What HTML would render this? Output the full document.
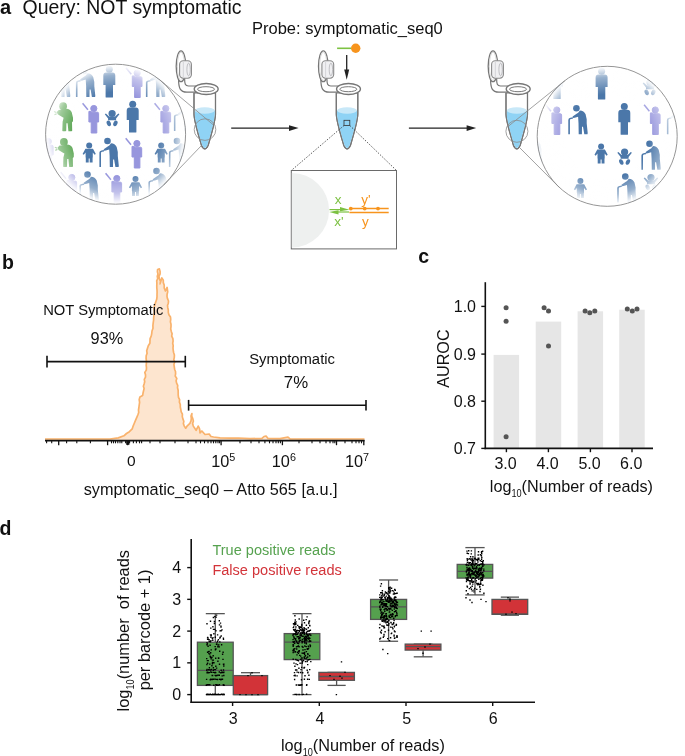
<!DOCTYPE html>
<html><head><meta charset="utf-8"><title>figure</title>
<style>
html,body{margin:0;padding:0;background:#fff;width:685px;height:756px;overflow:hidden}
svg{display:block;font-family:"Liberation Sans", sans-serif;filter:blur(0.35px)}
</style></head><body>
<svg width="685" height="756" viewBox="0 0 685 756">

<defs>
 <radialGradient id="fade" cx="0.5" cy="0.5" r="0.5">
  <stop offset="0" stop-color="#fff" stop-opacity="0"/>
  <stop offset="0.6" stop-color="#fff" stop-opacity="0"/>
  <stop offset="0.84" stop-color="#fff" stop-opacity="0.42"/>
  <stop offset="0.97" stop-color="#fff" stop-opacity="0.92"/>
  <stop offset="1" stop-color="#fff" stop-opacity="0.95"/>
 </radialGradient>
 <clipPath id="c1"><circle cx="115.6" cy="134.2" r="70"/></clipPath>
 <clipPath id="c3"><circle cx="607.2" cy="136.3" r="70"/></clipPath>
 <g id="man">
  <circle cx="0" cy="-28.3" r="3.5"/>
  <path d="M-6,-21.8 Q-6,-25 -3,-25 H3 Q6,-25 6,-21.8 V-12.5 H3.7 V-0.6 Q3.7,0 3,0 H-3 Q-3.7,0 -3.7,-0.6 V-12.5 H-6 Z"/>
 </g>
 <g id="old">
  <circle cx="-3" cy="-26" r="3.3"/>
  <path d="M-1.2,-21.5 L0.5,-23.8 Q4.5,-23.5 6.2,-20 L7.3,-15 L7.3,-11 L8.3,-1.2 L8.1,0 L4.9,0 L3.6,-7.5 L2.6,-7.5 L2.5,0 L-0.7,0 L-0.9,-11.4 L-1.3,-17.5 L-4.7,-16.6 L-6.5,-16.3 L-6.8,-17.8 L-2.8,-20.5 Z"/>
  <path d="M-11.1,0 V-14.4 Q-11.1,-16.4 -9,-16.6 L-6.6,-17 L-6.5,-15.6 L-8.6,-15.2 Q-9.5,-15 -9.5,-14 V0 Z"/>
 </g>
 <g id="child">
  <circle cx="0" cy="-17" r="3"/>
  <path d="M-3.8,-13.8 H3.8 L6.6,-8.6 L5.4,-7.7 L3.6,-10 V-5 H3.4 V0 H0.5 V-4 H-0.5 V0 H-3.4 V-5 H-3.6 V-10 L-5.4,-7.7 L-6.6,-8.6 Z"/>
 </g>
 <g id="baby">
  <circle cx="0" cy="-12.5" r="3.6"/>
  <path d="M-7.3,-11.8 L-6.2,-12.6 L-3,-9.6 H3 L6.2,-12.6 L7.3,-11.8 L4,-7.5 V-5.8 H-4 V-7.5 Z"/>
  <ellipse cx="-3.3" cy="-2.6" rx="2" ry="2.9" transform="rotate(-25 -3.3 -2.6)"/>
  <ellipse cx="3.3" cy="-2.6" rx="2" ry="2.9" transform="rotate(25 3.3 -2.6)"/>
 </g>
 <g id="swab">
  <circle cx="0.3" cy="-24.5" r="3.1"/>
  <path d="M-4.6,-21.6 H-2.4 L-1.5,-20.8 H3.8 Q5.1,-20.8 5.1,-19.5 V-11 H3.3 V0 H-2.3 V-11 H-4.6 Z"/>
  <line x1="-10.9" y1="-29.8" x2="-5.6" y2="-23.2" stroke-width="1.5"/>
 </g>
 <g id="cough">
  <circle cx="-4.1" cy="-25.1" r="3.9"/>
  <path d="M-6,-21.6 L-1,-22.6 Q3,-22.6 4.5,-19 L5.8,-13.5 L5.8,-10 L4.8,-9 L5,-0.5 L4.3,0 L1.2,0 L0.4,-8 L-0.8,-8 L-1,-0.5 L-1.6,0 L-4.4,0 L-4.9,-0.6 L-4.6,-9.5 L-3.6,-13.5 L-5,-14.2 L-9.5,-17 L-10.5,-19.3 L-8.5,-21.4 Z"/>
  <path d="M-13.2,-19.8 L-10.8,-18.8 M-12.8,-16.6 L-10.6,-17.6" stroke-width="1.2" stroke="currentColor" fill="none"/>
 </g>
 <linearGradient id="gB" x1="0" y1="0" x2="0" y2="1"><stop offset="0" stop-color="#4a76a8"/><stop offset="1" stop-color="#4a76a8"/></linearGradient>
</defs>

<text x="0" y="14" font-size="20" text-anchor="start" font-weight="bold" fill="#111" >a</text>
<text x="22.6" y="14" font-size="19.45" text-anchor="start" font-weight="normal" fill="#111" >Query: NOT symptomatic</text>
<text x="252" y="34" font-size="16.5" text-anchor="start" font-weight="normal" fill="#111" >Probe: symptomatic_seq0</text>
<g clip-path="url(#c1)">
<use href="#old" transform="translate(62.0,97.0) scale(1.0)" fill="#4b77a9" color="#4b77a9"/>
<use href="#old" transform="translate(87.0,97.0) scale(1.0)" fill="#4b77a9" color="#4b77a9"/>
<use href="#man" transform="translate(109.3,97.5) scale(1.0)" fill="#4b77a9" color="#4b77a9"/>
<use href="#swab" transform="translate(136.9,97.5) scale(1.0)" fill="#9796dd" color="#9796dd" stroke="#9796dd"/>
<use href="#old" transform="translate(157.0,97.0) scale(1.0)" fill="#4b77a9" color="#4b77a9"/>
<use href="#cough" transform="translate(67.2,131.3) scale(1.0)" fill="#5aa552" color="#5aa552"/>
<use href="#swab" transform="translate(93.5,133.0) scale(1.0)" fill="#9796dd" color="#9796dd" stroke="#9796dd"/>
<use href="#baby" transform="translate(112.1,126.0) scale(1.0)" fill="#4b77a9" color="#4b77a9"/>
<use href="#man" transform="translate(132.7,132.5) scale(1.0)" fill="#4b77a9" color="#4b77a9"/>
<use href="#swab" transform="translate(165.5,133.0) scale(1.0)" fill="#9796dd" color="#9796dd" stroke="#9796dd"/>
<use href="#old" transform="translate(185.0,131.0) scale(1.0)" fill="#4b77a9" color="#4b77a9"/>
<use href="#swab" transform="translate(48.0,166.0) scale(1.0)" fill="#9796dd" color="#9796dd" stroke="#9796dd"/>
<use href="#cough" transform="translate(68.0,167.0) scale(1.0)" fill="#5aa552" color="#5aa552"/>
<use href="#child" transform="translate(89.2,162.5) scale(1.0)" fill="#4b77a9" color="#4b77a9"/>
<use href="#old" transform="translate(110.5,167.0) scale(1.0)" fill="#4b77a9" color="#4b77a9"/>
<use href="#swab" transform="translate(136.6,168.0) scale(1.0)" fill="#9796dd" color="#9796dd" stroke="#9796dd"/>
<use href="#child" transform="translate(161.2,162.5) scale(1.0)" fill="#4b77a9" color="#4b77a9"/>
<use href="#old" transform="translate(180.0,167.0) scale(1.0)" fill="#4b77a9" color="#4b77a9"/>
<use href="#swab" transform="translate(71.5,202.0) scale(1.0)" fill="#9796dd" color="#9796dd" stroke="#9796dd"/>
<use href="#old" transform="translate(90.5,200.5) scale(1.0)" fill="#4b77a9" color="#4b77a9"/>
<use href="#swab" transform="translate(116.5,203.0) scale(1.0)" fill="#9796dd" color="#9796dd" stroke="#9796dd"/>
<use href="#child" transform="translate(135.5,196.0) scale(1.0)" fill="#4b77a9" color="#4b77a9"/>
<use href="#old" transform="translate(159.5,197.0) scale(1.0)" fill="#4b77a9" color="#4b77a9"/>
<circle cx="115.6" cy="134.2" r="70" fill="url(#fade)"/>
</g>
<circle cx="115.6" cy="134.2" r="70" fill="none" stroke="#959595" stroke-width="1"/>
<g clip-path="url(#c3)">
<use href="#man" transform="translate(557.0,99.0) scale(1.0)" fill="#4b77a9" color="#4b77a9"/>
<use href="#man" transform="translate(601.6,99.5) scale(1.0)" fill="#4b77a9" color="#4b77a9"/>
<use href="#baby" transform="translate(650.0,95.0) scale(1.0)" fill="#4b77a9" color="#4b77a9"/>
<use href="#swab" transform="translate(556.5,134.5) scale(1.0)" fill="#9796dd" color="#9796dd" stroke="#9796dd"/>
<use href="#old" transform="translate(579.4,134.3) scale(1.0)" fill="#4b77a9" color="#4b77a9"/>
<use href="#man" transform="translate(624.3,134.8) scale(1.0)" fill="#4b77a9" color="#4b77a9"/>
<use href="#swab" transform="translate(655.0,134.5) scale(1.0)" fill="#9796dd" color="#9796dd" stroke="#9796dd"/>
<use href="#old" transform="translate(678.0,134.3) scale(1.0)" fill="#4b77a9" color="#4b77a9"/>
<use href="#old" transform="translate(534.0,164.0) scale(1.0)" fill="#4b77a9" color="#4b77a9"/>
<use href="#child" transform="translate(601.1,163.4) scale(1.0)" fill="#4b77a9" color="#4b77a9"/>
<use href="#baby" transform="translate(624.6,164.6) scale(1.0)" fill="#4b77a9" color="#4b77a9"/>
<use href="#old" transform="translate(652.5,169.8) scale(1.0)" fill="#4b77a9" color="#4b77a9"/>
<use href="#child" transform="translate(580.4,198.0) scale(1.0)" fill="#4b77a9" color="#4b77a9"/>
<use href="#old" transform="translate(628.3,202.5) scale(1.0)" fill="#4b77a9" color="#4b77a9"/>
<use href="#baby" transform="translate(651.0,190.0) scale(1.0)" fill="#4b77a9" color="#4b77a9"/>
<circle cx="607.2" cy="136.3" r="70" fill="url(#fade)"/>
</g>
<circle cx="607.2" cy="136.3" r="70" fill="none" stroke="#959595" stroke-width="1"/>

<g id="tube">
 <path d="M178.6,78 C178.4,88 180,92.2 187,92.2 L196,92.2 L196,86 L188.5,86 C185.2,86 184.6,84 184.6,78 Z" fill="#fff" stroke="#767676" stroke-width="1.2"/>
 <ellipse cx="181" cy="66.3" rx="4.8" ry="15.4" fill="#fff" stroke="#767676" stroke-width="1.3"/>
 <ellipse cx="181" cy="66.3" rx="3.6" ry="14.2" fill="none" stroke="#d2d2d2" stroke-width="0.8"/>
 <rect x="179.6" y="60.8" width="11.8" height="17.4" rx="3.6" fill="#f0f0f2" stroke="#8a8a8a" stroke-width="1.1"/>
 <ellipse cx="188.6" cy="69.5" rx="1.7" ry="6.3" fill="none" stroke="#a9a9ad" stroke-width="0.7"/>
 <line x1="183.3" y1="61.5" x2="183.3" y2="77.5" stroke="#d4d4d8" stroke-width="1"/>
 <path d="M194,93 L194,114 C194,121 199,137 201.5,145.5 Q204.8,152.3 208.1,145.5 C210.6,137 215.5,121 215.5,114 L215.5,93 Z" fill="#fff" stroke="#767676" stroke-width="1.15"/>
 <path d="M194.7,110.4 L194.7,114 C194.7,121 199.7,137 202.2,145.3 Q204.8,151.2 207.4,145.3 C209.9,137 214.8,121 214.8,114 L214.8,110.4 Z" fill="#8fd3f5"/>
 <ellipse cx="204.75" cy="110.5" rx="9.9" ry="3.3" fill="#c8e8f8"/>
 <path d="M194,93 L194,114 C194,121 199,137 201.5,145.5 Q204.8,152.3 208.1,145.5 C210.6,137 215.5,121 215.5,114 L215.5,93" fill="none" stroke="#767676" stroke-width="1.15"/>
 <ellipse cx="206.2" cy="89" rx="12" ry="5.5" fill="#fff" stroke="#767676" stroke-width="1.3"/>
 <ellipse cx="206" cy="89.2" rx="8.5" ry="2.5" fill="#fff" stroke="#7a7a7a" stroke-width="1"/>
</g>
<use href="#tube" x="142.3" y="0"/>
<use href="#tube" x="312" y="0"/>
<circle cx="205" cy="129.6" r="10.8" fill="none" stroke="#8a8a8a" stroke-width="0.8"/>
<line x1="159.5" y1="79.6" x2="213" y2="124.6" stroke="#8a8a8a" stroke-width="0.8"/>
<line x1="164" y1="184.6" x2="201.5" y2="145.5" stroke="#8a8a8a" stroke-width="0.8"/>
<circle cx="516.9" cy="131.3" r="11" fill="none" stroke="#8a8a8a" stroke-width="0.8"/>
<line x1="508" y1="126.5" x2="564.8" y2="80.9" stroke="#8a8a8a" stroke-width="0.8"/>
<line x1="519" y1="147" x2="559.5" y2="187.6" stroke="#8a8a8a" stroke-width="0.8"/>
<line x1="231.2" y1="128.1" x2="290.6" y2="128.1" stroke="#222" stroke-width="1.4" />
<polygon points="289.0,125.19999999999999 298.6,128.1 289.0,131.0" fill="#222"/>
<line x1="408.9" y1="128.1" x2="468.2" y2="128.1" stroke="#222" stroke-width="1.4" />
<polygon points="466.59999999999997,125.19999999999999 476.2,128.1 466.59999999999997,131.0" fill="#222"/>
<line x1="337.1" y1="48.3" x2="351.5" y2="48.3" stroke="#7dc242" stroke-width="1.6" />
<circle cx="355.7" cy="48.3" r="4.7" fill="#f7941d"/>
<line x1="346.7" y1="55" x2="346.7" y2="71" stroke="#222" stroke-width="1.3" />
<polygon points="344.2,69.5 349.2,69.5 346.7,79.8" fill="#222"/>
<rect x="344" y="120.3" width="5.8" height="5.2" fill="none" stroke="#333" stroke-width="0.8"/>
<line x1="344" y1="125.5" x2="291.3" y2="170.5" stroke="#333" stroke-width="0.8" stroke-dasharray="1.5 1.5"/>
<line x1="349.8" y1="125.5" x2="396.5" y2="170.5" stroke="#333" stroke-width="0.8" stroke-dasharray="1.5 1.5"/>
<rect x="291.3" y="170.5" width="105.2" height="78.4" fill="#fff" stroke="#6a6a6a" stroke-width="1"/>
<path d="M291.8,173 A37,37 0 0 1 291.8,247.5 Z" fill="#eef0ef"/>
<line x1="349.4" y1="208.6" x2="388.7" y2="208.6" stroke="#f7941d" stroke-width="1.5" />
<line x1="349.4" y1="212.4" x2="388.7" y2="212.4" stroke="#f7941d" stroke-width="1.5" />
<circle cx="350.8" cy="208.6" r="1.9" fill="#f7941d"/>
<circle cx="364.7" cy="208.6" r="1.9" fill="#f7941d"/>
<circle cx="378" cy="208.6" r="1.9" fill="#f7941d"/>
<line x1="329.5" y1="209.6" x2="343" y2="209.6" stroke="#7cc142" stroke-width="1.2" />
<polygon points="340,206.9 349.5,209.7 340,211.2" fill="#7cc142"/>
<line x1="336" y1="212" x2="349" y2="212" stroke="#7cc142" stroke-width="1.2" />
<polygon points="338.5,210.3 329.2,212 338.5,214.4" fill="#7cc142"/>
<text x="338" y="203.5" font-size="13.5" text-anchor="middle" font-weight="normal" fill="#7cc142" >x</text>
<text x="338.8" y="226" font-size="13.5" text-anchor="middle" font-weight="normal" fill="#7cc142" >x'</text>
<text x="366" y="203.5" font-size="13.5" text-anchor="middle" font-weight="normal" fill="#f7941d" >y'</text>
<text x="365.3" y="226" font-size="13.5" text-anchor="middle" font-weight="normal" fill="#f7941d" >y</text>
<text x="2.1" y="269.3" font-size="19.5" text-anchor="start" font-weight="bold" fill="#111" >b</text>
<polygon points="45.0,439.0 110.0,439.0 118.3,437.9 123.9,435.8 126.5,433.5 129.4,431.7 132.2,428.9 133.0,426.4 134.0,424.0 135.7,419.9 136.8,417.4 137.8,415.0 138.7,412.5 138.5,410.0 138.9,407.5 139.2,405.0 139.6,402.3 139.2,399.6 139.9,396.9 142.6,395.6 143.0,393.3 143.5,391.0 144.1,388.6 143.4,386.3 144.1,384.0 144.7,381.7 144.3,379.4 145.5,377.1 145.5,374.7 144.8,372.4 146.3,370.1 146.5,367.8 146.2,365.4 146.4,363.1 146.4,360.8 146.1,358.3 146.2,355.8 147.1,353.3 146.7,350.8 147.5,348.3 148.3,345.8 149.9,343.3 150.0,340.9 150.1,338.6 151.2,336.2 151.7,333.8 152.0,331.0 153.0,328.3 152.9,325.5 153.2,322.8 153.6,320.1 153.7,317.5 154.0,314.8 154.4,312.4 154.2,310.0 154.1,307.6 154.6,305.2 155.8,301.7 156.7,299.3 157.0,296.9 157.0,294.6 157.1,292.2 157.0,289.8 156.8,287.5 156.8,285.3 156.9,283.0 156.7,280.8 157.7,278.5 157.3,276.3 158.0,274.0 157.4,271.8 157.6,269.5 159.4,268.9 160.1,271.4 160.1,273.9 159.0,276.4 159.4,278.8 160.5,281.3 160.0,283.8 160.9,280.9 161.8,277.9 163.3,280.3 163.3,282.6 164.2,285.0 164.2,288.0 165.4,291.0 167.1,287.4 167.4,289.7 167.7,291.9 167.1,294.2 167.0,296.4 167.5,298.7 168.5,301.0 168.3,303.2 167.5,305.5 167.8,307.7 168.3,310.0 168.3,312.4 168.9,314.8 170.5,317.1 170.7,319.5 170.4,321.9 171.0,324.3 171.0,326.6 170.7,329.0 171.3,331.4 172.1,333.8 171.7,336.2 172.9,338.6 173.1,341.0 172.7,343.3 173.2,345.6 173.0,347.9 173.2,350.2 173.6,352.5 174.4,354.9 174.3,357.3 173.8,359.7 174.7,362.0 173.9,364.4 174.3,366.8 174.6,369.2 175.5,371.5 175.6,373.8 175.2,376.1 176.8,378.4 176.1,380.8 176.6,383.1 177.7,385.4 177.5,387.7 178.1,390.0 178.2,392.4 178.2,394.9 178.5,397.3 179.6,399.7 179.4,402.1 180.3,404.5 180.3,407.0 180.8,409.4 181.2,411.8 182.4,414.2 182.3,416.6 182.9,418.9 183.8,421.3 183.4,423.7 184.3,426.1 185.7,428.2 187.3,425.8 189.9,423.3 191.0,420.9 191.3,418.5 191.0,416.0 191.9,413.6 191.7,416.1 192.8,418.6 193.4,421.1 192.6,423.6 193.3,426.1 196.1,430.3 198.2,426.1 199.4,428.4 199.9,430.7 200.0,433.0 201.9,431.0 205.0,434.5 209.2,434.0 211.0,436.5 213.6,437.0 220.0,437.8 230.0,438.2 238.4,438.0 250.0,438.6 262.0,438.4 264.0,436.5 266.1,436.0 268.0,438.5 280.0,438.6 288.0,437.2 290.0,438.8 364.5,439.0 364.5,440 45,440" fill="#fde5cf"/>
<polyline points="45.0,439.0 110.0,439.0 118.3,437.9 123.9,435.8 126.5,433.5 129.4,431.7 132.2,428.9 133.0,426.4 134.0,424.0 135.7,419.9 136.8,417.4 137.8,415.0 138.7,412.5 138.5,410.0 138.9,407.5 139.2,405.0 139.6,402.3 139.2,399.6 139.9,396.9 142.6,395.6 143.0,393.3 143.5,391.0 144.1,388.6 143.4,386.3 144.1,384.0 144.7,381.7 144.3,379.4 145.5,377.1 145.5,374.7 144.8,372.4 146.3,370.1 146.5,367.8 146.2,365.4 146.4,363.1 146.4,360.8 146.1,358.3 146.2,355.8 147.1,353.3 146.7,350.8 147.5,348.3 148.3,345.8 149.9,343.3 150.0,340.9 150.1,338.6 151.2,336.2 151.7,333.8 152.0,331.0 153.0,328.3 152.9,325.5 153.2,322.8 153.6,320.1 153.7,317.5 154.0,314.8 154.4,312.4 154.2,310.0 154.1,307.6 154.6,305.2 155.8,301.7 156.7,299.3 157.0,296.9 157.0,294.6 157.1,292.2 157.0,289.8 156.8,287.5 156.8,285.3 156.9,283.0 156.7,280.8 157.7,278.5 157.3,276.3 158.0,274.0 157.4,271.8 157.6,269.5 159.4,268.9 160.1,271.4 160.1,273.9 159.0,276.4 159.4,278.8 160.5,281.3 160.0,283.8 160.9,280.9 161.8,277.9 163.3,280.3 163.3,282.6 164.2,285.0 164.2,288.0 165.4,291.0 167.1,287.4 167.4,289.7 167.7,291.9 167.1,294.2 167.0,296.4 167.5,298.7 168.5,301.0 168.3,303.2 167.5,305.5 167.8,307.7 168.3,310.0 168.3,312.4 168.9,314.8 170.5,317.1 170.7,319.5 170.4,321.9 171.0,324.3 171.0,326.6 170.7,329.0 171.3,331.4 172.1,333.8 171.7,336.2 172.9,338.6 173.1,341.0 172.7,343.3 173.2,345.6 173.0,347.9 173.2,350.2 173.6,352.5 174.4,354.9 174.3,357.3 173.8,359.7 174.7,362.0 173.9,364.4 174.3,366.8 174.6,369.2 175.5,371.5 175.6,373.8 175.2,376.1 176.8,378.4 176.1,380.8 176.6,383.1 177.7,385.4 177.5,387.7 178.1,390.0 178.2,392.4 178.2,394.9 178.5,397.3 179.6,399.7 179.4,402.1 180.3,404.5 180.3,407.0 180.8,409.4 181.2,411.8 182.4,414.2 182.3,416.6 182.9,418.9 183.8,421.3 183.4,423.7 184.3,426.1 185.7,428.2 187.3,425.8 189.9,423.3 191.0,420.9 191.3,418.5 191.0,416.0 191.9,413.6 191.7,416.1 192.8,418.6 193.4,421.1 192.6,423.6 193.3,426.1 196.1,430.3 198.2,426.1 199.4,428.4 199.9,430.7 200.0,433.0 201.9,431.0 205.0,434.5 209.2,434.0 211.0,436.5 213.6,437.0 220.0,437.8 230.0,438.2 238.4,438.0 250.0,438.6 262.0,438.4 264.0,436.5 266.1,436.0 268.0,438.5 280.0,438.6 288.0,437.2 290.0,438.8 364.5,439.0" fill="none" stroke="#f9b26c" stroke-width="1.7" stroke-linejoin="round"/>
<line x1="45" y1="440.6" x2="364.5" y2="440.6" stroke="#111" stroke-width="1.6" />
<line x1="46.6" y1="440" x2="46.6" y2="443.3" stroke="#111" stroke-width="1.1" />
<line x1="51.7" y1="440" x2="51.7" y2="443.3" stroke="#111" stroke-width="1.1" />
<line x1="66.6" y1="440" x2="66.6" y2="443.3" stroke="#111" stroke-width="1.1" />
<line x1="76.8" y1="440" x2="76.8" y2="443.3" stroke="#111" stroke-width="1.1" />
<line x1="90.4" y1="440" x2="90.4" y2="443.3" stroke="#111" stroke-width="1.1" />
<line x1="111.5" y1="440" x2="111.5" y2="443.3" stroke="#111" stroke-width="1.1" />
<line x1="113.5" y1="440" x2="113.5" y2="443.3" stroke="#111" stroke-width="1.1" />
<line x1="115.5" y1="440" x2="115.5" y2="443.3" stroke="#111" stroke-width="1.1" />
<line x1="117.8" y1="440" x2="117.8" y2="443.3" stroke="#111" stroke-width="1.1" />
<line x1="120" y1="440" x2="120" y2="443.3" stroke="#111" stroke-width="1.1" />
<line x1="121.8" y1="440" x2="121.8" y2="443.3" stroke="#111" stroke-width="1.1" />
<line x1="125.6" y1="440" x2="125.6" y2="443.3" stroke="#111" stroke-width="1.1" />
<line x1="129.6" y1="440" x2="129.6" y2="443.3" stroke="#111" stroke-width="1.1" />
<line x1="133.4" y1="440" x2="133.4" y2="443.3" stroke="#111" stroke-width="1.1" />
<line x1="136.4" y1="440" x2="136.4" y2="443.3" stroke="#111" stroke-width="1.1" />
<line x1="139.5" y1="440" x2="139.5" y2="443.3" stroke="#111" stroke-width="1.1" />
<line x1="141.6" y1="440" x2="141.6" y2="443.3" stroke="#111" stroke-width="1.1" />
<line x1="150" y1="440" x2="150" y2="443.3" stroke="#111" stroke-width="1.1" />
<line x1="160" y1="440" x2="160" y2="443.3" stroke="#111" stroke-width="1.1" />
<line x1="175" y1="440" x2="175" y2="443.3" stroke="#111" stroke-width="1.1" />
<line x1="188" y1="440" x2="188" y2="443.3" stroke="#111" stroke-width="1.1" />
<line x1="196" y1="440" x2="196" y2="443.3" stroke="#111" stroke-width="1.1" />
<line x1="200.5" y1="440" x2="200.5" y2="443.3" stroke="#111" stroke-width="1.1" />
<line x1="204.5" y1="440" x2="204.5" y2="443.3" stroke="#111" stroke-width="1.1" />
<line x1="208" y1="440" x2="208" y2="443.3" stroke="#111" stroke-width="1.1" />
<line x1="211" y1="440" x2="211" y2="443.3" stroke="#111" stroke-width="1.1" />
<line x1="213.5" y1="440" x2="213.5" y2="443.3" stroke="#111" stroke-width="1.1" />
<line x1="215.8" y1="440" x2="215.8" y2="443.3" stroke="#111" stroke-width="1.1" />
<line x1="218" y1="440" x2="218" y2="443.3" stroke="#111" stroke-width="1.1" />
<line x1="219.6" y1="440" x2="219.6" y2="443.3" stroke="#111" stroke-width="1.1" />
<line x1="240" y1="440" x2="240" y2="443.3" stroke="#111" stroke-width="1.1" />
<line x1="251" y1="440" x2="251" y2="443.3" stroke="#111" stroke-width="1.1" />
<line x1="259" y1="440" x2="259" y2="443.3" stroke="#111" stroke-width="1.1" />
<line x1="264.9" y1="440" x2="264.9" y2="443.3" stroke="#111" stroke-width="1.1" />
<line x1="269.5" y1="440" x2="269.5" y2="443.3" stroke="#111" stroke-width="1.1" />
<line x1="273" y1="440" x2="273" y2="443.3" stroke="#111" stroke-width="1.1" />
<line x1="276" y1="440" x2="276" y2="443.3" stroke="#111" stroke-width="1.1" />
<line x1="278.3" y1="440" x2="278.3" y2="443.3" stroke="#111" stroke-width="1.1" />
<line x1="280.4" y1="440" x2="280.4" y2="443.3" stroke="#111" stroke-width="1.1" />
<line x1="299" y1="440" x2="299" y2="443.3" stroke="#111" stroke-width="1.1" />
<line x1="312" y1="440" x2="312" y2="443.3" stroke="#111" stroke-width="1.1" />
<line x1="320" y1="440" x2="320" y2="443.3" stroke="#111" stroke-width="1.1" />
<line x1="326" y1="440" x2="326" y2="443.3" stroke="#111" stroke-width="1.1" />
<line x1="330" y1="440" x2="330" y2="443.3" stroke="#111" stroke-width="1.1" />
<line x1="333" y1="440" x2="333" y2="443.3" stroke="#111" stroke-width="1.1" />
<line x1="334.8" y1="440" x2="334.8" y2="443.3" stroke="#111" stroke-width="1.1" />
<line x1="345" y1="440" x2="345" y2="443.3" stroke="#111" stroke-width="1.1" />
<line x1="352" y1="440" x2="352" y2="443.3" stroke="#111" stroke-width="1.1" />
<line x1="356" y1="440" x2="356" y2="443.3" stroke="#111" stroke-width="1.1" />
<line x1="359" y1="440" x2="359" y2="443.3" stroke="#111" stroke-width="1.1" />
<line x1="361.5" y1="440" x2="361.5" y2="443.3" stroke="#111" stroke-width="1.1" />
<line x1="58.7" y1="440" x2="58.7" y2="445.2" stroke="#111" stroke-width="1.3" />
<line x1="107.6" y1="440" x2="107.6" y2="445.2" stroke="#111" stroke-width="1.3" />
<line x1="127.6" y1="440" x2="127.6" y2="445.2" stroke="#111" stroke-width="1.3" />
<line x1="221.1" y1="440" x2="221.1" y2="445.2" stroke="#111" stroke-width="1.3" />
<line x1="282.4" y1="440" x2="282.4" y2="445.2" stroke="#111" stroke-width="1.3" />
<line x1="336.5" y1="440" x2="336.5" y2="445.2" stroke="#111" stroke-width="1.3" />
<line x1="363.8" y1="440" x2="363.8" y2="445.2" stroke="#111" stroke-width="1.3" />
<rect x="126.2" y="440" width="3.2" height="4.8" fill="#111"/>
<line x1="47" y1="361.6" x2="185.3" y2="361.6" stroke="#111" stroke-width="1.6" />
<line x1="47" y1="355.8" x2="47" y2="367.4" stroke="#111" stroke-width="1.6" />
<line x1="185.3" y1="355.8" x2="185.3" y2="367.4" stroke="#111" stroke-width="1.6" />
<line x1="188.6" y1="405.3" x2="366" y2="405.3" stroke="#111" stroke-width="1.6" />
<line x1="188.6" y1="399.9" x2="188.6" y2="410.6" stroke="#111" stroke-width="1.6" />
<line x1="366" y1="399.9" x2="366" y2="410.6" stroke="#111" stroke-width="1.6" />
<text x="43.2" y="314.9" font-size="14.75" text-anchor="start" font-weight="normal" fill="#111" >NOT Symptomatic</text>
<text x="90.6" y="343.5" font-size="16.3" text-anchor="start" font-weight="normal" fill="#111" >93%</text>
<text x="249.2" y="363.7" font-size="14.85" text-anchor="start" font-weight="normal" fill="#111" >Symptomatic</text>
<text x="283.8" y="388.4" font-size="16.8" text-anchor="start" font-weight="normal" fill="#111" >7%</text>
<text x="131.3" y="466.2" font-size="15.5" text-anchor="middle" font-weight="normal" fill="#111" >0</text>
<text x="211.2" y="466.6" font-size="16.3" fill="#111">10<tspan font-size="10.8" dy="-6">5</tspan></text>
<text x="271.8" y="466.6" font-size="16.3" fill="#111">10<tspan font-size="10.8" dy="-6">6</tspan></text>
<text x="344.9" y="466.6" font-size="16.3" fill="#111">10<tspan font-size="10.8" dy="-6">7</tspan></text>
<text x="83.7" y="495.1" font-size="16.25" text-anchor="start" font-weight="normal" fill="#111" >symptomatic_seq0 – Atto 565 [a.u.]</text>
<text x="418.2" y="262.8" font-size="19.5" text-anchor="start" font-weight="bold" fill="#111" >c</text>
<rect x="493.6" y="354.9" width="25.5" height="93.5" fill="#e6e6e6"/>
<rect x="535.7" y="321.6" width="25.5" height="126.79999999999995" fill="#e6e6e6"/>
<rect x="577.6" y="311.3" width="25.5" height="137.09999999999997" fill="#e6e6e6"/>
<rect x="619.2" y="309.7" width="25.5" height="138.7" fill="#e6e6e6"/>
<line x1="485.3" y1="282.2" x2="485.3" y2="449.2" stroke="#111" stroke-width="1.6" />
<line x1="484.5" y1="448.4" x2="653" y2="448.4" stroke="#111" stroke-width="1.6" />
<line x1="481.3" y1="306.4" x2="485.3" y2="306.4" stroke="#111" stroke-width="1.4" />
<text x="476" y="311.9" font-size="16" text-anchor="end" font-weight="normal" fill="#111" >1.0</text>
<line x1="481.3" y1="354.1" x2="485.3" y2="354.1" stroke="#111" stroke-width="1.4" />
<text x="476" y="359.6" font-size="16" text-anchor="end" font-weight="normal" fill="#111" >0.9</text>
<line x1="481.3" y1="401.2" x2="485.3" y2="401.2" stroke="#111" stroke-width="1.4" />
<text x="476" y="406.7" font-size="16" text-anchor="end" font-weight="normal" fill="#111" >0.8</text>
<line x1="481.3" y1="448.4" x2="485.3" y2="448.4" stroke="#111" stroke-width="1.4" />
<text x="476" y="453.9" font-size="16" text-anchor="end" font-weight="normal" fill="#111" >0.7</text>
<line x1="506.4" y1="448.4" x2="506.4" y2="452.2" stroke="#111" stroke-width="1.4" />
<text x="505.59999999999997" y="468.8" font-size="16" text-anchor="middle" font-weight="normal" fill="#111" >3.0</text>
<line x1="548.4" y1="448.4" x2="548.4" y2="452.2" stroke="#111" stroke-width="1.4" />
<text x="547.6" y="468.8" font-size="16" text-anchor="middle" font-weight="normal" fill="#111" >4.0</text>
<line x1="590.4" y1="448.4" x2="590.4" y2="452.2" stroke="#111" stroke-width="1.4" />
<text x="589.6" y="468.8" font-size="16" text-anchor="middle" font-weight="normal" fill="#111" >5.0</text>
<line x1="632" y1="448.4" x2="632" y2="452.2" stroke="#111" stroke-width="1.4" />
<text x="631.2" y="468.8" font-size="16" text-anchor="middle" font-weight="normal" fill="#111" >6.0</text>
<circle cx="506.1" cy="307.7" r="2.5" fill="#555"/>
<circle cx="506.1" cy="321.3" r="2.5" fill="#555"/>
<circle cx="506.1" cy="436.7" r="2.5" fill="#555"/>
<circle cx="544.1" cy="307.7" r="2.5" fill="#555"/>
<circle cx="548.5" cy="311.1" r="2.5" fill="#555"/>
<circle cx="548.5" cy="346" r="2.5" fill="#555"/>
<circle cx="585.1" cy="311.1" r="2.5" fill="#555"/>
<circle cx="589.8" cy="312.7" r="2.5" fill="#555"/>
<circle cx="594.8" cy="311.1" r="2.5" fill="#555"/>
<circle cx="627.3" cy="309.1" r="2.5" fill="#555"/>
<circle cx="632.3" cy="311.1" r="2.5" fill="#555"/>
<circle cx="637" cy="309.1" r="2.5" fill="#555"/>
<text x="489.8" y="491.8" font-size="16.2" fill="#111">log<tspan font-size="11" dy="5.4" textLength="10.2" lengthAdjust="spacingAndGlyphs">10</tspan><tspan dy="-5.4">(Number of reads)</tspan></text>
<text transform="translate(448.6,358.6) rotate(-90)" font-size="16.2" text-anchor="middle" fill="#111">AUROC</text>
<text x="-0.4" y="534.9" font-size="19.5" text-anchor="start" font-weight="bold" fill="#111" >d</text>
<g id="boxes">
<line x1="215.3" y1="613.6375" x2="215.3" y2="642.2125" stroke="#555" stroke-width="1.3" />
<line x1="215.3" y1="685.3925" x2="215.3" y2="694.6" stroke="#555" stroke-width="1.3" />
<line x1="205.8" y1="613.6375" x2="224.8" y2="613.6375" stroke="#555" stroke-width="1.3" />
<line x1="205.8" y1="694.6" x2="224.8" y2="694.6" stroke="#555" stroke-width="1.3" />
<rect x="197.4" y="642.2" width="35.8" height="43.2" fill="#55a04e" stroke="#555" stroke-width="1.3"/>
<line x1="197.4" y1="670.47" x2="233.2" y2="670.47" stroke="#555" stroke-width="1.3" />
<line x1="302" y1="613.6375" x2="302" y2="633.64" stroke="#555" stroke-width="1.3" />
<line x1="302" y1="659.6750000000001" x2="302" y2="694.6" stroke="#555" stroke-width="1.3" />
<line x1="292.5" y1="613.6375" x2="311.5" y2="613.6375" stroke="#555" stroke-width="1.3" />
<line x1="292.5" y1="694.6" x2="311.5" y2="694.6" stroke="#555" stroke-width="1.3" />
<rect x="284.2" y="633.6" width="35.6" height="26.0" fill="#55a04e" stroke="#555" stroke-width="1.3"/>
<line x1="284.2" y1="642.2125" x2="319.8" y2="642.2125" stroke="#555" stroke-width="1.3" />
<line x1="388.6" y1="579.9825000000001" x2="388.6" y2="599.35" stroke="#555" stroke-width="1.3" />
<line x1="388.6" y1="619.3525" x2="388.6" y2="641.26" stroke="#555" stroke-width="1.3" />
<line x1="379.1" y1="579.9825000000001" x2="398.1" y2="579.9825000000001" stroke="#555" stroke-width="1.3" />
<line x1="379.1" y1="641.26" x2="398.1" y2="641.26" stroke="#555" stroke-width="1.3" />
<rect x="370.6" y="599.4" width="36" height="20.0" fill="#55a04e" stroke="#555" stroke-width="1.3"/>
<line x1="370.6" y1="606.97" x2="406.6" y2="606.97" stroke="#555" stroke-width="1.3" />
<line x1="475" y1="547.5975000000001" x2="475" y2="564.4250000000001" stroke="#555" stroke-width="1.3" />
<line x1="475" y1="578.0775" x2="475" y2="594.905" stroke="#555" stroke-width="1.3" />
<line x1="465.35" y1="547.5975000000001" x2="484.65" y2="547.5975000000001" stroke="#555" stroke-width="1.3" />
<line x1="465.35" y1="594.905" x2="484.65" y2="594.905" stroke="#555" stroke-width="1.3" />
<rect x="457.2" y="564.4" width="35.5" height="13.7" fill="#55a04e" stroke="#555" stroke-width="1.3"/>
<line x1="457.25" y1="571.4100000000001" x2="492.75" y2="571.4100000000001" stroke="#555" stroke-width="1.3" />
<line x1="250.5" y1="672.6925" x2="250.5" y2="675.5500000000001" stroke="#555" stroke-width="1.3" />
<line x1="250.5" y1="694.6" x2="250.5" y2="694.6" stroke="#555" stroke-width="1.3" />
<line x1="241.0" y1="672.6925" x2="260.0" y2="672.6925" stroke="#555" stroke-width="1.3" />
<line x1="241.0" y1="694.6" x2="260.0" y2="694.6" stroke="#555" stroke-width="1.3" />
<rect x="233.3" y="675.6" width="34.3" height="19.0" fill="#d23338" stroke="#555" stroke-width="1.3"/>
<line x1="233.35" y1="694.6" x2="267.65" y2="694.6" stroke="#555" stroke-width="1.3" />
<line x1="336.6" y1="672.375" x2="336.6" y2="672.375" stroke="#555" stroke-width="1.3" />
<line x1="336.6" y1="680.3125" x2="336.6" y2="685.3925" stroke="#555" stroke-width="1.3" />
<line x1="327.5" y1="672.375" x2="345.70000000000005" y2="672.375" stroke="#555" stroke-width="1.3" />
<line x1="327.5" y1="685.3925" x2="345.70000000000005" y2="685.3925" stroke="#555" stroke-width="1.3" />
<rect x="318.9" y="672.4" width="35.5" height="7.9" fill="#d23338" stroke="#555" stroke-width="1.3"/>
<line x1="318.85" y1="676.5025" x2="354.35" y2="676.5025" stroke="#555" stroke-width="1.3" />
<line x1="423.1" y1="644.1175000000001" x2="423.1" y2="644.1175000000001" stroke="#555" stroke-width="1.3" />
<line x1="423.1" y1="650.15" x2="423.1" y2="656.8175" stroke="#555" stroke-width="1.3" />
<line x1="413.75" y1="644.1175000000001" x2="432.45000000000005" y2="644.1175000000001" stroke="#555" stroke-width="1.3" />
<line x1="413.75" y1="656.8175" x2="432.45000000000005" y2="656.8175" stroke="#555" stroke-width="1.3" />
<rect x="405.2" y="644.1" width="35.7" height="6.0" fill="#d23338" stroke="#555" stroke-width="1.3"/>
<line x1="405.25" y1="646.6575" x2="440.95" y2="646.6575" stroke="#555" stroke-width="1.3" />
<line x1="509.9" y1="597.1275" x2="509.9" y2="599.35" stroke="#555" stroke-width="1.3" />
<line x1="509.9" y1="614.2725" x2="509.9" y2="615.225" stroke="#555" stroke-width="1.3" />
<line x1="500.79999999999995" y1="597.1275" x2="519.0" y2="597.1275" stroke="#555" stroke-width="1.3" />
<line x1="500.79999999999995" y1="615.225" x2="519.0" y2="615.225" stroke="#555" stroke-width="1.3" />
<rect x="492.0" y="599.4" width="35.7" height="14.9" fill="#d23338" stroke="#555" stroke-width="1.3"/>
<line x1="492.04999999999995" y1="614.2725" x2="527.75" y2="614.2725" stroke="#555" stroke-width="1.3" />
</g>
<path d="M218.0,675.1h1.4v1.4h-1.4zM215.9,649.0h1.4v1.4h-1.4zM207.0,623.8h1.4v1.4h-1.4zM207.6,652.3h1.4v1.4h-1.4zM208.5,694.4h1.4v1.4h-1.4zM217.6,634.9h1.4v1.4h-1.4zM223.9,694.2h1.4v1.4h-1.4zM221.8,679.3h1.4v1.4h-1.4zM211.9,657.5h1.4v1.4h-1.4zM209.6,654.1h1.4v1.4h-1.4zM216.2,684.7h1.4v1.4h-1.4zM207.4,684.8h1.4v1.4h-1.4zM212.0,679.5h1.4v1.4h-1.4zM214.5,694.4h1.4v1.4h-1.4zM210.7,652.7h1.4v1.4h-1.4zM215.8,694.6h1.4v1.4h-1.4zM223.9,672.1h1.4v1.4h-1.4zM213.8,685.2h1.4v1.4h-1.4zM207.0,642.6h1.4v1.4h-1.4zM220.1,630.9h1.4v1.4h-1.4zM218.8,644.9h1.4v1.4h-1.4zM216.7,685.0h1.4v1.4h-1.4zM214.8,616.6h1.4v1.4h-1.4zM217.9,646.8h1.4v1.4h-1.4zM213.2,655.7h1.4v1.4h-1.4zM206.7,685.0h1.4v1.4h-1.4zM207.4,660.6h1.4v1.4h-1.4zM208.6,651.8h1.4v1.4h-1.4zM207.8,694.6h1.4v1.4h-1.4zM216.2,617.1h1.4v1.4h-1.4zM211.3,635.0h1.4v1.4h-1.4zM223.5,694.3h1.4v1.4h-1.4zM210.5,657.2h1.4v1.4h-1.4zM216.9,642.9h1.4v1.4h-1.4zM212.9,626.8h1.4v1.4h-1.4zM223.5,670.0h1.4v1.4h-1.4zM218.5,694.2h1.4v1.4h-1.4zM222.5,672.6h1.4v1.4h-1.4zM213.4,617.5h1.4v1.4h-1.4zM208.2,694.6h1.4v1.4h-1.4zM210.1,656.1h1.4v1.4h-1.4zM212.4,663.9h1.4v1.4h-1.4zM208.1,646.3h1.4v1.4h-1.4zM206.8,670.2h1.4v1.4h-1.4zM210.8,679.3h1.4v1.4h-1.4zM212.9,679.1h1.4v1.4h-1.4zM207.8,694.3h1.4v1.4h-1.4zM212.5,660.1h1.4v1.4h-1.4zM206.7,658.6h1.4v1.4h-1.4zM215.8,684.8h1.4v1.4h-1.4zM215.8,675.9h1.4v1.4h-1.4zM221.8,672.6h1.4v1.4h-1.4zM209.3,672.6h1.4v1.4h-1.4zM215.9,630.8h1.4v1.4h-1.4zM220.9,679.8h1.4v1.4h-1.4zM221.6,644.7h1.4v1.4h-1.4zM210.4,641.8h1.4v1.4h-1.4zM212.7,694.2h1.4v1.4h-1.4zM211.0,637.2h1.4v1.4h-1.4zM223.5,664.3h1.4v1.4h-1.4zM223.5,694.5h1.4v1.4h-1.4zM209.8,664.1h1.4v1.4h-1.4zM217.5,641.3h1.4v1.4h-1.4zM218.1,645.0h1.4v1.4h-1.4zM207.8,694.6h1.4v1.4h-1.4zM219.8,694.6h1.4v1.4h-1.4zM212.3,638.6h1.4v1.4h-1.4zM213.5,629.4h1.4v1.4h-1.4zM219.3,675.2h1.4v1.4h-1.4zM222.6,654.2h1.4v1.4h-1.4zM208.9,653.6h1.4v1.4h-1.4zM212.6,675.5h1.4v1.4h-1.4zM223.8,666.0h1.4v1.4h-1.4zM215.8,666.3h1.4v1.4h-1.4zM221.2,636.0h1.4v1.4h-1.4zM210.6,670.0h1.4v1.4h-1.4zM211.0,635.6h1.4v1.4h-1.4zM216.8,685.4h1.4v1.4h-1.4zM213.9,633.8h1.4v1.4h-1.4zM215.7,694.2h1.4v1.4h-1.4zM214.2,669.6h1.4v1.4h-1.4zM209.4,667.7h1.4v1.4h-1.4zM212.2,675.5h1.4v1.4h-1.4zM216.3,694.6h1.4v1.4h-1.4zM210.8,628.1h1.4v1.4h-1.4zM220.2,637.3h1.4v1.4h-1.4zM222.7,694.6h1.4v1.4h-1.4zM217.3,685.0h1.4v1.4h-1.4zM214.4,694.6h1.4v1.4h-1.4zM214.9,672.8h1.4v1.4h-1.4zM223.3,684.8h1.4v1.4h-1.4zM221.4,694.3h1.4v1.4h-1.4zM207.6,637.5h1.4v1.4h-1.4zM207.6,639.2h1.4v1.4h-1.4zM209.1,651.5h1.4v1.4h-1.4zM222.2,675.9h1.4v1.4h-1.4zM210.3,679.8h1.4v1.4h-1.4zM224.1,694.6h1.4v1.4h-1.4zM209.2,641.5h1.4v1.4h-1.4zM209.8,694.5h1.4v1.4h-1.4zM219.3,672.0h1.4v1.4h-1.4zM206.6,694.5h1.4v1.4h-1.4zM217.5,679.5h1.4v1.4h-1.4zM220.5,623.1h1.4v1.4h-1.4zM207.0,644.7h1.4v1.4h-1.4zM211.2,649.9h1.4v1.4h-1.4zM221.0,627.0h1.4v1.4h-1.4zM216.6,615.1h1.4v1.4h-1.4zM218.7,658.2h1.4v1.4h-1.4zM207.6,663.2h1.4v1.4h-1.4zM207.8,694.6h1.4v1.4h-1.4zM207.5,694.6h1.4v1.4h-1.4zM216.3,694.6h1.4v1.4h-1.4zM211.1,658.9h1.4v1.4h-1.4zM208.3,684.8h1.4v1.4h-1.4zM207.2,672.2h1.4v1.4h-1.4zM220.0,679.3h1.4v1.4h-1.4zM215.3,637.2h1.4v1.4h-1.4zM210.8,672.0h1.4v1.4h-1.4zM219.5,664.3h1.4v1.4h-1.4zM223.1,652.3h1.4v1.4h-1.4zM221.0,626.2h1.4v1.4h-1.4zM213.4,667.8h1.4v1.4h-1.4zM212.5,694.6h1.4v1.4h-1.4zM213.6,679.3h1.4v1.4h-1.4zM207.3,694.3h1.4v1.4h-1.4zM210.9,640.7h1.4v1.4h-1.4zM222.0,629.9h1.4v1.4h-1.4zM211.6,672.4h1.4v1.4h-1.4zM209.1,639.8h1.4v1.4h-1.4zM223.8,675.5h1.4v1.4h-1.4zM211.9,665.8h1.4v1.4h-1.4zM214.8,629.4h1.4v1.4h-1.4zM209.9,669.9h1.4v1.4h-1.4zM207.9,637.6h1.4v1.4h-1.4zM207.1,669.5h1.4v1.4h-1.4zM216.8,675.5h1.4v1.4h-1.4zM219.8,641.9h1.4v1.4h-1.4zM213.3,679.3h1.4v1.4h-1.4zM219.3,646.9h1.4v1.4h-1.4zM207.1,672.7h1.4v1.4h-1.4zM219.5,624.9h1.4v1.4h-1.4zM208.8,694.6h1.4v1.4h-1.4zM220.8,672.7h1.4v1.4h-1.4zM218.6,694.6h1.4v1.4h-1.4zM208.7,669.8h1.4v1.4h-1.4zM208.2,660.6h1.4v1.4h-1.4zM217.6,694.6h1.4v1.4h-1.4zM215.1,679.1h1.4v1.4h-1.4zM215.4,649.7h1.4v1.4h-1.4zM218.2,694.3h1.4v1.4h-1.4zM207.6,672.2h1.4v1.4h-1.4zM219.4,684.8h1.4v1.4h-1.4zM215.2,675.4h1.4v1.4h-1.4zM220.1,694.6h1.4v1.4h-1.4zM217.9,661.2h1.4v1.4h-1.4zM219.7,651.2h1.4v1.4h-1.4zM216.5,644.4h1.4v1.4h-1.4zM218.4,639.8h1.4v1.4h-1.4zM218.5,658.0h1.4v1.4h-1.4zM214.7,694.3h1.4v1.4h-1.4zM222.4,672.2h1.4v1.4h-1.4zM206.6,679.4h1.4v1.4h-1.4zM214.4,623.5h1.4v1.4h-1.4zM210.1,645.3h1.4v1.4h-1.4zM223.4,638.1h1.4v1.4h-1.4zM221.1,630.7h1.4v1.4h-1.4zM210.5,621.3h1.4v1.4h-1.4zM215.1,694.2h1.4v1.4h-1.4zM214.4,621.5h1.4v1.4h-1.4zM208.8,669.8h1.4v1.4h-1.4zM206.3,685.2h1.4v1.4h-1.4zM223.0,659.4h1.4v1.4h-1.4zM222.5,679.3h1.4v1.4h-1.4zM224.3,685.1h1.4v1.4h-1.4zM212.8,640.3h1.4v1.4h-1.4zM208.1,672.7h1.4v1.4h-1.4zM211.4,657.6h1.4v1.4h-1.4zM215.5,669.6h1.4v1.4h-1.4zM213.0,637.8h1.4v1.4h-1.4zM217.7,694.6h1.4v1.4h-1.4zM219.3,620.8h1.4v1.4h-1.4zM219.5,679.4h1.4v1.4h-1.4zM211.5,669.5h1.4v1.4h-1.4zM223.0,694.3h1.4v1.4h-1.4zM211.7,694.6h1.4v1.4h-1.4zM223.9,664.1h1.4v1.4h-1.4zM216.3,679.4h1.4v1.4h-1.4zM209.3,684.8h1.4v1.4h-1.4zM215.2,646.6h1.4v1.4h-1.4zM209.8,684.7h1.4v1.4h-1.4zM212.5,662.5h1.4v1.4h-1.4zM216.6,668.1h1.4v1.4h-1.4zM219.8,638.1h1.4v1.4h-1.4zM213.1,694.5h1.4v1.4h-1.4zM207.4,643.9h1.4v1.4h-1.4zM215.4,649.3h1.4v1.4h-1.4zM221.8,672.2h1.4v1.4h-1.4zM213.5,672.4h1.4v1.4h-1.4zM223.5,639.4h1.4v1.4h-1.4zM206.9,664.5h1.4v1.4h-1.4zM222.4,672.4h1.4v1.4h-1.4zM213.3,670.2h1.4v1.4h-1.4zM221.2,670.2h1.4v1.4h-1.4zM208.3,639.1h1.4v1.4h-1.4zM215.7,672.6h1.4v1.4h-1.4zM218.0,685.3h1.4v1.4h-1.4zM207.0,694.6h1.4v1.4h-1.4zM210.5,656.7h1.4v1.4h-1.4zM208.6,684.8h1.4v1.4h-1.4zM217.8,685.2h1.4v1.4h-1.4zM215.7,658.3h1.4v1.4h-1.4zM213.3,660.1h1.4v1.4h-1.4zM211.7,672.4h1.4v1.4h-1.4zM223.6,672.5h1.4v1.4h-1.4zM210.5,634.9h1.4v1.4h-1.4zM223.6,685.2h1.4v1.4h-1.4zM215.3,672.5h1.4v1.4h-1.4zM213.9,662.7h1.4v1.4h-1.4zM210.4,694.2h1.4v1.4h-1.4zM299.1,694.5h1.4v1.4h-1.4zM307.3,649.3h1.4v1.4h-1.4zM302.1,658.0h1.4v1.4h-1.4zM307.8,631.2h1.4v1.4h-1.4zM297.0,646.6h1.4v1.4h-1.4zM301.9,660.1h1.4v1.4h-1.4zM305.0,640.5h1.4v1.4h-1.4zM295.6,629.1h1.4v1.4h-1.4zM295.6,634.0h1.4v1.4h-1.4zM309.2,630.7h1.4v1.4h-1.4zM306.2,637.9h1.4v1.4h-1.4zM296.3,632.2h1.4v1.4h-1.4zM306.4,651.6h1.4v1.4h-1.4zM299.7,655.4h1.4v1.4h-1.4zM296.0,663.9h1.4v1.4h-1.4zM310.2,646.5h1.4v1.4h-1.4zM310.4,630.3h1.4v1.4h-1.4zM307.8,672.4h1.4v1.4h-1.4zM293.9,623.7h1.4v1.4h-1.4zM296.5,684.9h1.4v1.4h-1.4zM309.1,621.4h1.4v1.4h-1.4zM306.8,684.7h1.4v1.4h-1.4zM293.6,629.6h1.4v1.4h-1.4zM306.5,634.0h1.4v1.4h-1.4zM299.1,651.8h1.4v1.4h-1.4zM297.7,625.4h1.4v1.4h-1.4zM298.7,651.2h1.4v1.4h-1.4zM309.5,621.0h1.4v1.4h-1.4zM310.0,641.4h1.4v1.4h-1.4zM310.2,641.0h1.4v1.4h-1.4zM300.0,627.6h1.4v1.4h-1.4zM309.7,669.6h1.4v1.4h-1.4zM307.4,636.0h1.4v1.4h-1.4zM303.9,632.4h1.4v1.4h-1.4zM298.8,684.9h1.4v1.4h-1.4zM296.6,641.4h1.4v1.4h-1.4zM297.5,652.3h1.4v1.4h-1.4zM298.9,626.8h1.4v1.4h-1.4zM308.9,639.2h1.4v1.4h-1.4zM294.7,643.4h1.4v1.4h-1.4zM305.8,636.8h1.4v1.4h-1.4zM304.2,641.1h1.4v1.4h-1.4zM306.5,629.3h1.4v1.4h-1.4zM308.1,649.0h1.4v1.4h-1.4zM303.2,653.2h1.4v1.4h-1.4zM297.5,643.2h1.4v1.4h-1.4zM295.8,659.5h1.4v1.4h-1.4zM300.1,663.2h1.4v1.4h-1.4zM302.1,653.1h1.4v1.4h-1.4zM310.8,635.3h1.4v1.4h-1.4zM301.5,679.7h1.4v1.4h-1.4zM293.7,626.9h1.4v1.4h-1.4zM295.1,694.4h1.4v1.4h-1.4zM309.7,625.5h1.4v1.4h-1.4zM308.6,648.1h1.4v1.4h-1.4zM310.0,644.9h1.4v1.4h-1.4zM303.7,620.3h1.4v1.4h-1.4zM295.5,639.6h1.4v1.4h-1.4zM297.6,630.4h1.4v1.4h-1.4zM293.2,652.5h1.4v1.4h-1.4zM305.2,656.1h1.4v1.4h-1.4zM307.3,648.7h1.4v1.4h-1.4zM294.1,634.0h1.4v1.4h-1.4zM304.5,667.4h1.4v1.4h-1.4zM295.9,632.6h1.4v1.4h-1.4zM298.5,660.7h1.4v1.4h-1.4zM298.6,636.7h1.4v1.4h-1.4zM308.6,659.6h1.4v1.4h-1.4zM299.5,631.7h1.4v1.4h-1.4zM293.1,644.8h1.4v1.4h-1.4zM300.6,659.5h1.4v1.4h-1.4zM301.3,684.8h1.4v1.4h-1.4zM293.3,627.6h1.4v1.4h-1.4zM294.6,679.5h1.4v1.4h-1.4zM299.7,685.0h1.4v1.4h-1.4zM302.4,636.2h1.4v1.4h-1.4zM295.0,634.0h1.4v1.4h-1.4zM296.6,630.7h1.4v1.4h-1.4zM301.7,667.4h1.4v1.4h-1.4zM309.3,631.1h1.4v1.4h-1.4zM307.8,653.7h1.4v1.4h-1.4zM300.3,640.4h1.4v1.4h-1.4zM307.9,660.1h1.4v1.4h-1.4zM302.3,639.5h1.4v1.4h-1.4zM295.2,629.5h1.4v1.4h-1.4zM293.7,650.8h1.4v1.4h-1.4zM306.6,694.2h1.4v1.4h-1.4zM303.8,638.9h1.4v1.4h-1.4zM304.3,653.1h1.4v1.4h-1.4zM300.7,672.5h1.4v1.4h-1.4zM301.0,634.1h1.4v1.4h-1.4zM301.8,624.5h1.4v1.4h-1.4zM306.7,639.8h1.4v1.4h-1.4zM301.5,657.9h1.4v1.4h-1.4zM295.3,640.1h1.4v1.4h-1.4zM302.2,630.3h1.4v1.4h-1.4zM304.5,634.4h1.4v1.4h-1.4zM302.2,646.5h1.4v1.4h-1.4zM302.1,684.9h1.4v1.4h-1.4zM308.4,636.0h1.4v1.4h-1.4zM306.2,646.6h1.4v1.4h-1.4zM301.9,630.2h1.4v1.4h-1.4zM307.2,636.0h1.4v1.4h-1.4zM294.2,650.1h1.4v1.4h-1.4zM309.1,641.6h1.4v1.4h-1.4zM307.7,657.0h1.4v1.4h-1.4zM296.7,694.4h1.4v1.4h-1.4zM302.1,642.9h1.4v1.4h-1.4zM295.9,634.7h1.4v1.4h-1.4zM305.2,640.7h1.4v1.4h-1.4zM295.1,631.4h1.4v1.4h-1.4zM304.5,622.7h1.4v1.4h-1.4zM303.4,631.3h1.4v1.4h-1.4zM294.9,666.3h1.4v1.4h-1.4zM307.4,660.1h1.4v1.4h-1.4zM310.8,661.6h1.4v1.4h-1.4zM301.0,669.6h1.4v1.4h-1.4zM306.4,625.2h1.4v1.4h-1.4zM304.5,638.5h1.4v1.4h-1.4zM303.5,660.5h1.4v1.4h-1.4zM293.6,642.5h1.4v1.4h-1.4zM304.1,641.5h1.4v1.4h-1.4zM295.4,694.4h1.4v1.4h-1.4zM304.8,646.0h1.4v1.4h-1.4zM294.9,630.2h1.4v1.4h-1.4zM297.0,642.2h1.4v1.4h-1.4zM304.2,657.2h1.4v1.4h-1.4zM295.4,651.7h1.4v1.4h-1.4zM294.7,641.9h1.4v1.4h-1.4zM308.7,635.3h1.4v1.4h-1.4zM293.2,659.3h1.4v1.4h-1.4zM303.1,636.3h1.4v1.4h-1.4zM309.9,659.4h1.4v1.4h-1.4zM297.5,664.6h1.4v1.4h-1.4zM300.3,627.0h1.4v1.4h-1.4zM294.1,638.1h1.4v1.4h-1.4zM309.9,625.9h1.4v1.4h-1.4zM296.6,641.0h1.4v1.4h-1.4zM307.6,679.2h1.4v1.4h-1.4zM298.6,643.6h1.4v1.4h-1.4zM307.1,616.9h1.4v1.4h-1.4zM293.1,634.5h1.4v1.4h-1.4zM306.4,643.0h1.4v1.4h-1.4zM297.1,672.1h1.4v1.4h-1.4zM299.0,642.0h1.4v1.4h-1.4zM305.5,638.9h1.4v1.4h-1.4zM303.0,647.2h1.4v1.4h-1.4zM307.2,661.6h1.4v1.4h-1.4zM310.4,645.7h1.4v1.4h-1.4zM308.8,623.6h1.4v1.4h-1.4zM306.4,643.7h1.4v1.4h-1.4zM306.4,632.7h1.4v1.4h-1.4zM297.3,634.3h1.4v1.4h-1.4zM304.4,658.4h1.4v1.4h-1.4zM301.5,679.7h1.4v1.4h-1.4zM300.9,659.4h1.4v1.4h-1.4zM303.3,694.4h1.4v1.4h-1.4zM294.4,638.2h1.4v1.4h-1.4zM295.6,624.6h1.4v1.4h-1.4zM299.2,619.0h1.4v1.4h-1.4zM293.5,623.7h1.4v1.4h-1.4zM305.5,655.7h1.4v1.4h-1.4zM294.2,675.6h1.4v1.4h-1.4zM307.8,672.7h1.4v1.4h-1.4zM294.2,624.7h1.4v1.4h-1.4zM294.9,615.7h1.4v1.4h-1.4zM295.0,675.1h1.4v1.4h-1.4zM304.4,629.1h1.4v1.4h-1.4zM304.4,679.3h1.4v1.4h-1.4zM306.6,637.2h1.4v1.4h-1.4zM298.7,638.8h1.4v1.4h-1.4zM298.1,632.7h1.4v1.4h-1.4zM299.6,640.8h1.4v1.4h-1.4zM308.3,627.7h1.4v1.4h-1.4zM293.6,649.1h1.4v1.4h-1.4zM299.2,685.2h1.4v1.4h-1.4zM302.7,633.4h1.4v1.4h-1.4zM307.8,638.3h1.4v1.4h-1.4zM293.0,650.5h1.4v1.4h-1.4zM293.1,639.6h1.4v1.4h-1.4zM296.3,685.0h1.4v1.4h-1.4zM299.2,641.2h1.4v1.4h-1.4zM298.1,646.2h1.4v1.4h-1.4zM295.0,652.1h1.4v1.4h-1.4zM294.5,672.6h1.4v1.4h-1.4zM304.3,657.1h1.4v1.4h-1.4zM300.2,685.0h1.4v1.4h-1.4zM309.0,637.8h1.4v1.4h-1.4zM296.7,649.0h1.4v1.4h-1.4zM299.8,630.3h1.4v1.4h-1.4zM297.2,660.3h1.4v1.4h-1.4zM306.6,685.2h1.4v1.4h-1.4zM299.3,650.6h1.4v1.4h-1.4zM304.9,628.7h1.4v1.4h-1.4zM296.1,621.9h1.4v1.4h-1.4zM295.3,639.8h1.4v1.4h-1.4zM308.9,675.3h1.4v1.4h-1.4zM305.7,638.7h1.4v1.4h-1.4zM295.8,631.8h1.4v1.4h-1.4zM302.4,641.8h1.4v1.4h-1.4zM298.9,630.7h1.4v1.4h-1.4zM294.8,622.3h1.4v1.4h-1.4zM294.8,648.6h1.4v1.4h-1.4zM306.2,619.6h1.4v1.4h-1.4zM296.5,646.9h1.4v1.4h-1.4zM300.0,635.1h1.4v1.4h-1.4zM300.2,637.1h1.4v1.4h-1.4zM304.4,652.6h1.4v1.4h-1.4zM295.6,670.0h1.4v1.4h-1.4zM309.3,679.4h1.4v1.4h-1.4zM303.3,630.6h1.4v1.4h-1.4zM306.0,658.5h1.4v1.4h-1.4zM306.9,638.1h1.4v1.4h-1.4zM304.5,630.7h1.4v1.4h-1.4zM298.6,672.5h1.4v1.4h-1.4zM307.1,631.5h1.4v1.4h-1.4zM304.3,634.3h1.4v1.4h-1.4zM304.2,667.7h1.4v1.4h-1.4zM305.2,636.2h1.4v1.4h-1.4zM307.0,634.6h1.4v1.4h-1.4zM301.8,625.7h1.4v1.4h-1.4zM295.9,627.0h1.4v1.4h-1.4zM309.9,638.4h1.4v1.4h-1.4zM302.7,629.0h1.4v1.4h-1.4zM302.2,632.5h1.4v1.4h-1.4zM300.4,635.2h1.4v1.4h-1.4zM296.8,670.0h1.4v1.4h-1.4zM295.2,675.9h1.4v1.4h-1.4zM299.4,628.3h1.4v1.4h-1.4zM293.2,646.3h1.4v1.4h-1.4zM300.6,629.7h1.4v1.4h-1.4zM297.0,654.9h1.4v1.4h-1.4zM309.9,634.2h1.4v1.4h-1.4zM300.1,637.5h1.4v1.4h-1.4zM295.3,620.0h1.4v1.4h-1.4zM301.4,635.7h1.4v1.4h-1.4zM297.1,675.9h1.4v1.4h-1.4zM307.7,664.6h1.4v1.4h-1.4zM301.4,627.5h1.4v1.4h-1.4zM308.0,654.6h1.4v1.4h-1.4zM308.3,646.2h1.4v1.4h-1.4zM300.7,656.1h1.4v1.4h-1.4zM293.0,635.6h1.4v1.4h-1.4zM298.4,646.0h1.4v1.4h-1.4zM300.7,633.0h1.4v1.4h-1.4zM309.7,655.8h1.4v1.4h-1.4zM294.0,663.1h1.4v1.4h-1.4zM295.5,624.0h1.4v1.4h-1.4zM304.4,667.4h1.4v1.4h-1.4zM304.8,639.7h1.4v1.4h-1.4zM297.2,636.8h1.4v1.4h-1.4zM299.2,637.6h1.4v1.4h-1.4zM296.0,623.9h1.4v1.4h-1.4zM304.0,668.0h1.4v1.4h-1.4zM307.2,670.2h1.4v1.4h-1.4zM296.6,694.6h1.4v1.4h-1.4zM300.9,685.3h1.4v1.4h-1.4zM303.0,650.0h1.4v1.4h-1.4zM301.9,641.2h1.4v1.4h-1.4zM301.4,635.0h1.4v1.4h-1.4zM302.7,672.7h1.4v1.4h-1.4zM293.1,641.8h1.4v1.4h-1.4zM305.0,675.8h1.4v1.4h-1.4zM299.7,638.8h1.4v1.4h-1.4zM304.5,637.4h1.4v1.4h-1.4zM293.5,644.9h1.4v1.4h-1.4zM298.9,668.2h1.4v1.4h-1.4zM302.2,694.6h1.4v1.4h-1.4zM305.9,639.7h1.4v1.4h-1.4zM299.1,646.7h1.4v1.4h-1.4zM302.5,661.8h1.4v1.4h-1.4zM296.8,631.5h1.4v1.4h-1.4zM307.9,672.2h1.4v1.4h-1.4zM307.9,634.6h1.4v1.4h-1.4zM302.1,663.2h1.4v1.4h-1.4zM304.8,643.0h1.4v1.4h-1.4zM298.4,653.4h1.4v1.4h-1.4zM304.4,632.8h1.4v1.4h-1.4zM308.9,622.5h1.4v1.4h-1.4zM293.9,636.9h1.4v1.4h-1.4zM309.6,634.1h1.4v1.4h-1.4zM304.8,642.0h1.4v1.4h-1.4zM304.1,627.6h1.4v1.4h-1.4zM305.5,661.6h1.4v1.4h-1.4zM305.0,649.6h1.4v1.4h-1.4zM306.7,657.9h1.4v1.4h-1.4zM306.9,641.0h1.4v1.4h-1.4zM304.8,639.0h1.4v1.4h-1.4zM303.1,632.2h1.4v1.4h-1.4zM298.4,685.0h1.4v1.4h-1.4zM304.6,654.3h1.4v1.4h-1.4zM294.0,630.0h1.4v1.4h-1.4zM307.6,636.1h1.4v1.4h-1.4zM309.5,640.6h1.4v1.4h-1.4zM303.7,630.0h1.4v1.4h-1.4zM310.7,641.2h1.4v1.4h-1.4zM304.6,652.4h1.4v1.4h-1.4zM295.7,638.7h1.4v1.4h-1.4zM295.2,623.3h1.4v1.4h-1.4zM294.6,641.8h1.4v1.4h-1.4zM392.5,605.4h1.4v1.4h-1.4zM392.8,605.3h1.4v1.4h-1.4zM392.4,590.6h1.4v1.4h-1.4zM392.7,601.2h1.4v1.4h-1.4zM387.9,625.2h1.4v1.4h-1.4zM384.2,626.1h1.4v1.4h-1.4zM379.9,607.6h1.4v1.4h-1.4zM394.3,609.1h1.4v1.4h-1.4zM382.6,617.2h1.4v1.4h-1.4zM388.4,591.4h1.4v1.4h-1.4zM387.5,621.7h1.4v1.4h-1.4zM382.2,597.4h1.4v1.4h-1.4zM390.9,622.4h1.4v1.4h-1.4zM386.5,596.1h1.4v1.4h-1.4zM389.8,590.1h1.4v1.4h-1.4zM380.7,617.2h1.4v1.4h-1.4zM385.6,616.0h1.4v1.4h-1.4zM397.2,636.9h1.4v1.4h-1.4zM387.3,618.7h1.4v1.4h-1.4zM386.4,615.6h1.4v1.4h-1.4zM394.1,635.1h1.4v1.4h-1.4zM379.6,627.7h1.4v1.4h-1.4zM394.3,626.7h1.4v1.4h-1.4zM380.4,600.9h1.4v1.4h-1.4zM389.9,599.1h1.4v1.4h-1.4zM394.9,637.9h1.4v1.4h-1.4zM385.8,621.2h1.4v1.4h-1.4zM389.6,640.6h1.4v1.4h-1.4zM396.4,601.6h1.4v1.4h-1.4zM390.5,591.0h1.4v1.4h-1.4zM384.2,618.1h1.4v1.4h-1.4zM393.8,605.5h1.4v1.4h-1.4zM393.5,591.1h1.4v1.4h-1.4zM390.0,597.6h1.4v1.4h-1.4zM388.2,597.8h1.4v1.4h-1.4zM383.0,620.0h1.4v1.4h-1.4zM386.1,600.4h1.4v1.4h-1.4zM386.8,592.7h1.4v1.4h-1.4zM397.5,605.0h1.4v1.4h-1.4zM381.5,604.6h1.4v1.4h-1.4zM390.3,605.5h1.4v1.4h-1.4zM389.0,615.9h1.4v1.4h-1.4zM395.2,600.5h1.4v1.4h-1.4zM393.6,618.6h1.4v1.4h-1.4zM396.6,612.4h1.4v1.4h-1.4zM384.2,595.6h1.4v1.4h-1.4zM381.1,604.7h1.4v1.4h-1.4zM389.6,601.1h1.4v1.4h-1.4zM396.0,600.2h1.4v1.4h-1.4zM381.8,620.9h1.4v1.4h-1.4zM384.2,616.6h1.4v1.4h-1.4zM391.7,633.1h1.4v1.4h-1.4zM387.7,638.6h1.4v1.4h-1.4zM383.6,617.5h1.4v1.4h-1.4zM395.8,607.9h1.4v1.4h-1.4zM394.7,597.1h1.4v1.4h-1.4zM391.2,603.7h1.4v1.4h-1.4zM380.6,632.0h1.4v1.4h-1.4zM391.8,606.1h1.4v1.4h-1.4zM381.5,630.2h1.4v1.4h-1.4zM384.2,621.8h1.4v1.4h-1.4zM383.9,616.7h1.4v1.4h-1.4zM391.8,605.9h1.4v1.4h-1.4zM380.2,609.5h1.4v1.4h-1.4zM383.6,618.0h1.4v1.4h-1.4zM382.1,592.7h1.4v1.4h-1.4zM381.3,633.0h1.4v1.4h-1.4zM387.7,599.0h1.4v1.4h-1.4zM394.4,626.3h1.4v1.4h-1.4zM383.6,613.0h1.4v1.4h-1.4zM392.4,613.6h1.4v1.4h-1.4zM384.4,594.3h1.4v1.4h-1.4zM382.4,590.6h1.4v1.4h-1.4zM382.6,602.1h1.4v1.4h-1.4zM385.3,619.9h1.4v1.4h-1.4zM380.6,586.1h1.4v1.4h-1.4zM391.6,588.2h1.4v1.4h-1.4zM384.2,620.2h1.4v1.4h-1.4zM386.2,606.2h1.4v1.4h-1.4zM381.4,583.7h1.4v1.4h-1.4zM395.7,607.1h1.4v1.4h-1.4zM397.2,608.6h1.4v1.4h-1.4zM394.1,620.5h1.4v1.4h-1.4zM394.6,606.6h1.4v1.4h-1.4zM382.9,606.4h1.4v1.4h-1.4zM389.9,600.6h1.4v1.4h-1.4zM382.8,613.3h1.4v1.4h-1.4zM381.0,609.3h1.4v1.4h-1.4zM390.6,617.6h1.4v1.4h-1.4zM390.6,608.8h1.4v1.4h-1.4zM394.2,600.2h1.4v1.4h-1.4zM392.8,605.8h1.4v1.4h-1.4zM392.6,603.0h1.4v1.4h-1.4zM394.8,603.8h1.4v1.4h-1.4zM388.5,620.4h1.4v1.4h-1.4zM395.3,597.0h1.4v1.4h-1.4zM382.9,617.3h1.4v1.4h-1.4zM386.3,613.7h1.4v1.4h-1.4zM379.7,602.5h1.4v1.4h-1.4zM381.8,625.9h1.4v1.4h-1.4zM394.3,603.2h1.4v1.4h-1.4zM386.5,618.4h1.4v1.4h-1.4zM380.7,592.8h1.4v1.4h-1.4zM388.8,595.6h1.4v1.4h-1.4zM389.3,612.1h1.4v1.4h-1.4zM382.9,599.6h1.4v1.4h-1.4zM384.1,609.6h1.4v1.4h-1.4zM392.2,602.2h1.4v1.4h-1.4zM379.9,606.2h1.4v1.4h-1.4zM392.2,624.5h1.4v1.4h-1.4zM395.3,616.5h1.4v1.4h-1.4zM388.5,602.0h1.4v1.4h-1.4zM384.6,605.2h1.4v1.4h-1.4zM390.3,614.7h1.4v1.4h-1.4zM382.2,603.9h1.4v1.4h-1.4zM394.5,607.5h1.4v1.4h-1.4zM386.6,616.8h1.4v1.4h-1.4zM386.7,600.7h1.4v1.4h-1.4zM393.6,623.9h1.4v1.4h-1.4zM387.4,606.8h1.4v1.4h-1.4zM394.1,598.1h1.4v1.4h-1.4zM380.6,599.1h1.4v1.4h-1.4zM396.8,636.8h1.4v1.4h-1.4zM391.0,606.8h1.4v1.4h-1.4zM389.2,596.0h1.4v1.4h-1.4zM380.0,624.5h1.4v1.4h-1.4zM397.1,602.3h1.4v1.4h-1.4zM394.2,594.0h1.4v1.4h-1.4zM395.5,615.6h1.4v1.4h-1.4zM391.8,615.0h1.4v1.4h-1.4zM389.4,617.4h1.4v1.4h-1.4zM389.0,616.0h1.4v1.4h-1.4zM396.7,615.5h1.4v1.4h-1.4zM381.8,615.2h1.4v1.4h-1.4zM396.8,593.2h1.4v1.4h-1.4zM389.2,608.8h1.4v1.4h-1.4zM381.8,595.4h1.4v1.4h-1.4zM384.8,611.3h1.4v1.4h-1.4zM381.2,597.0h1.4v1.4h-1.4zM389.9,599.6h1.4v1.4h-1.4zM383.2,626.2h1.4v1.4h-1.4zM390.6,627.1h1.4v1.4h-1.4zM385.2,603.7h1.4v1.4h-1.4zM386.5,604.9h1.4v1.4h-1.4zM379.8,594.9h1.4v1.4h-1.4zM389.6,602.1h1.4v1.4h-1.4zM384.7,616.7h1.4v1.4h-1.4zM382.5,614.6h1.4v1.4h-1.4zM395.3,590.2h1.4v1.4h-1.4zM387.5,597.8h1.4v1.4h-1.4zM381.6,602.9h1.4v1.4h-1.4zM382.4,590.7h1.4v1.4h-1.4zM385.9,614.0h1.4v1.4h-1.4zM394.4,631.0h1.4v1.4h-1.4zM392.9,628.7h1.4v1.4h-1.4zM393.7,606.4h1.4v1.4h-1.4zM396.1,625.4h1.4v1.4h-1.4zM393.4,606.4h1.4v1.4h-1.4zM388.6,608.4h1.4v1.4h-1.4zM393.7,622.7h1.4v1.4h-1.4zM390.5,614.4h1.4v1.4h-1.4zM392.6,624.3h1.4v1.4h-1.4zM386.6,603.7h1.4v1.4h-1.4zM393.8,618.2h1.4v1.4h-1.4zM388.6,601.0h1.4v1.4h-1.4zM382.2,603.6h1.4v1.4h-1.4zM390.1,598.7h1.4v1.4h-1.4zM394.8,599.4h1.4v1.4h-1.4zM396.9,613.7h1.4v1.4h-1.4zM379.8,639.0h1.4v1.4h-1.4zM389.8,597.0h1.4v1.4h-1.4zM389.3,592.0h1.4v1.4h-1.4zM388.9,620.6h1.4v1.4h-1.4zM386.0,613.6h1.4v1.4h-1.4zM385.9,622.4h1.4v1.4h-1.4zM381.4,615.9h1.4v1.4h-1.4zM386.8,625.0h1.4v1.4h-1.4zM397.0,637.2h1.4v1.4h-1.4zM387.5,622.3h1.4v1.4h-1.4zM389.1,597.9h1.4v1.4h-1.4zM382.7,607.2h1.4v1.4h-1.4zM388.8,587.8h1.4v1.4h-1.4zM395.7,611.3h1.4v1.4h-1.4zM395.6,593.6h1.4v1.4h-1.4zM388.8,602.3h1.4v1.4h-1.4zM383.0,599.7h1.4v1.4h-1.4zM386.0,622.7h1.4v1.4h-1.4zM391.1,622.9h1.4v1.4h-1.4zM385.1,631.8h1.4v1.4h-1.4zM379.7,597.4h1.4v1.4h-1.4zM391.6,599.3h1.4v1.4h-1.4zM388.6,625.4h1.4v1.4h-1.4zM389.2,609.8h1.4v1.4h-1.4zM389.9,592.3h1.4v1.4h-1.4zM393.3,602.4h1.4v1.4h-1.4zM381.4,602.6h1.4v1.4h-1.4zM390.6,637.7h1.4v1.4h-1.4zM380.7,610.9h1.4v1.4h-1.4zM392.5,605.7h1.4v1.4h-1.4zM382.6,621.2h1.4v1.4h-1.4zM390.1,589.0h1.4v1.4h-1.4zM387.7,594.0h1.4v1.4h-1.4zM390.1,587.2h1.4v1.4h-1.4zM387.5,599.9h1.4v1.4h-1.4zM396.4,607.2h1.4v1.4h-1.4zM385.3,604.2h1.4v1.4h-1.4zM390.4,603.9h1.4v1.4h-1.4zM388.5,620.2h1.4v1.4h-1.4zM392.5,606.3h1.4v1.4h-1.4zM385.2,597.2h1.4v1.4h-1.4zM384.0,636.0h1.4v1.4h-1.4zM386.1,605.0h1.4v1.4h-1.4zM389.7,598.4h1.4v1.4h-1.4zM389.2,609.3h1.4v1.4h-1.4zM381.8,612.2h1.4v1.4h-1.4zM385.9,604.6h1.4v1.4h-1.4zM383.9,603.6h1.4v1.4h-1.4zM391.6,599.1h1.4v1.4h-1.4zM381.3,597.9h1.4v1.4h-1.4zM394.6,593.5h1.4v1.4h-1.4zM394.1,636.1h1.4v1.4h-1.4zM386.0,600.4h1.4v1.4h-1.4zM383.3,637.2h1.4v1.4h-1.4zM388.7,588.8h1.4v1.4h-1.4zM392.3,615.1h1.4v1.4h-1.4zM395.8,605.5h1.4v1.4h-1.4zM390.5,615.1h1.4v1.4h-1.4zM395.3,601.0h1.4v1.4h-1.4zM384.5,627.8h1.4v1.4h-1.4zM386.5,608.8h1.4v1.4h-1.4zM386.6,619.6h1.4v1.4h-1.4zM382.8,613.1h1.4v1.4h-1.4zM381.6,617.5h1.4v1.4h-1.4zM386.1,593.5h1.4v1.4h-1.4zM385.2,608.5h1.4v1.4h-1.4zM381.9,603.5h1.4v1.4h-1.4zM396.0,610.6h1.4v1.4h-1.4zM395.5,597.1h1.4v1.4h-1.4zM380.1,601.6h1.4v1.4h-1.4zM391.5,600.8h1.4v1.4h-1.4zM392.2,627.4h1.4v1.4h-1.4zM394.8,599.1h1.4v1.4h-1.4zM381.7,614.5h1.4v1.4h-1.4zM392.8,614.7h1.4v1.4h-1.4zM382.5,603.9h1.4v1.4h-1.4zM385.1,606.1h1.4v1.4h-1.4zM391.1,598.2h1.4v1.4h-1.4zM394.7,604.9h1.4v1.4h-1.4zM387.4,609.8h1.4v1.4h-1.4zM385.9,619.0h1.4v1.4h-1.4zM384.8,597.7h1.4v1.4h-1.4zM395.0,631.7h1.4v1.4h-1.4zM381.6,599.9h1.4v1.4h-1.4zM383.4,605.1h1.4v1.4h-1.4zM392.1,606.9h1.4v1.4h-1.4zM393.1,614.2h1.4v1.4h-1.4zM396.6,608.3h1.4v1.4h-1.4zM396.3,602.8h1.4v1.4h-1.4zM390.9,609.1h1.4v1.4h-1.4zM380.6,638.1h1.4v1.4h-1.4zM396.3,624.5h1.4v1.4h-1.4zM393.3,601.3h1.4v1.4h-1.4zM384.3,615.8h1.4v1.4h-1.4zM397.0,635.7h1.4v1.4h-1.4zM380.7,618.9h1.4v1.4h-1.4zM387.0,610.2h1.4v1.4h-1.4zM392.3,610.4h1.4v1.4h-1.4zM383.9,601.6h1.4v1.4h-1.4zM396.4,624.7h1.4v1.4h-1.4zM385.0,609.0h1.4v1.4h-1.4zM385.6,599.0h1.4v1.4h-1.4zM389.5,597.0h1.4v1.4h-1.4zM390.4,599.6h1.4v1.4h-1.4zM393.4,594.1h1.4v1.4h-1.4zM386.1,600.4h1.4v1.4h-1.4zM380.7,601.3h1.4v1.4h-1.4zM387.7,601.5h1.4v1.4h-1.4zM385.4,592.0h1.4v1.4h-1.4zM380.9,613.1h1.4v1.4h-1.4zM397.5,602.5h1.4v1.4h-1.4zM397.2,593.1h1.4v1.4h-1.4zM381.6,598.8h1.4v1.4h-1.4zM389.4,616.4h1.4v1.4h-1.4zM396.2,604.4h1.4v1.4h-1.4zM391.3,633.6h1.4v1.4h-1.4zM384.0,634.4h1.4v1.4h-1.4zM394.7,589.5h1.4v1.4h-1.4zM382.9,604.0h1.4v1.4h-1.4zM382.6,594.1h1.4v1.4h-1.4zM394.5,638.3h1.4v1.4h-1.4zM394.5,611.7h1.4v1.4h-1.4zM386.2,601.3h1.4v1.4h-1.4zM383.9,627.9h1.4v1.4h-1.4zM389.8,593.0h1.4v1.4h-1.4zM395.9,600.6h1.4v1.4h-1.4zM388.5,630.3h1.4v1.4h-1.4zM390.1,601.9h1.4v1.4h-1.4zM392.0,599.5h1.4v1.4h-1.4zM381.2,597.2h1.4v1.4h-1.4zM392.6,616.6h1.4v1.4h-1.4zM394.7,604.8h1.4v1.4h-1.4zM384.7,604.6h1.4v1.4h-1.4zM388.9,623.8h1.4v1.4h-1.4zM391.6,616.6h1.4v1.4h-1.4zM395.9,597.4h1.4v1.4h-1.4zM389.7,611.9h1.4v1.4h-1.4zM383.1,596.1h1.4v1.4h-1.4zM397.1,615.5h1.4v1.4h-1.4zM395.2,597.3h1.4v1.4h-1.4zM394.2,592.9h1.4v1.4h-1.4zM478.2,574.5h1.4v1.4h-1.4zM483.2,574.8h1.4v1.4h-1.4zM477.7,559.5h1.4v1.4h-1.4zM466.5,581.5h1.4v1.4h-1.4zM478.2,555.0h1.4v1.4h-1.4zM472.7,559.5h1.4v1.4h-1.4zM473.5,564.4h1.4v1.4h-1.4zM468.1,579.5h1.4v1.4h-1.4zM482.0,575.0h1.4v1.4h-1.4zM470.6,556.8h1.4v1.4h-1.4zM475.6,559.0h1.4v1.4h-1.4zM470.1,582.9h1.4v1.4h-1.4zM468.0,570.6h1.4v1.4h-1.4zM473.3,574.2h1.4v1.4h-1.4zM473.9,573.6h1.4v1.4h-1.4zM479.6,584.7h1.4v1.4h-1.4zM483.8,576.0h1.4v1.4h-1.4zM473.1,556.9h1.4v1.4h-1.4zM483.3,560.8h1.4v1.4h-1.4zM480.0,570.3h1.4v1.4h-1.4zM470.3,576.1h1.4v1.4h-1.4zM469.8,558.6h1.4v1.4h-1.4zM478.7,570.1h1.4v1.4h-1.4zM481.7,561.4h1.4v1.4h-1.4zM482.5,579.8h1.4v1.4h-1.4zM472.1,563.9h1.4v1.4h-1.4zM478.2,558.1h1.4v1.4h-1.4zM479.3,565.2h1.4v1.4h-1.4zM479.0,564.7h1.4v1.4h-1.4zM475.9,574.9h1.4v1.4h-1.4zM468.0,574.3h1.4v1.4h-1.4zM469.5,574.5h1.4v1.4h-1.4zM481.1,577.6h1.4v1.4h-1.4zM468.0,570.2h1.4v1.4h-1.4zM469.3,570.2h1.4v1.4h-1.4zM472.9,574.5h1.4v1.4h-1.4zM481.8,557.5h1.4v1.4h-1.4zM483.1,577.1h1.4v1.4h-1.4zM472.2,586.3h1.4v1.4h-1.4zM480.4,589.3h1.4v1.4h-1.4zM469.3,571.9h1.4v1.4h-1.4zM474.6,575.0h1.4v1.4h-1.4zM481.2,579.5h1.4v1.4h-1.4zM467.4,562.2h1.4v1.4h-1.4zM469.9,580.6h1.4v1.4h-1.4zM469.1,573.6h1.4v1.4h-1.4zM474.4,572.9h1.4v1.4h-1.4zM466.1,577.9h1.4v1.4h-1.4zM472.0,565.3h1.4v1.4h-1.4zM466.8,564.1h1.4v1.4h-1.4zM470.9,574.8h1.4v1.4h-1.4zM470.7,577.8h1.4v1.4h-1.4zM483.9,593.3h1.4v1.4h-1.4zM476.1,575.6h1.4v1.4h-1.4zM477.4,560.2h1.4v1.4h-1.4zM472.5,582.4h1.4v1.4h-1.4zM482.9,566.2h1.4v1.4h-1.4zM471.5,589.2h1.4v1.4h-1.4zM477.4,572.0h1.4v1.4h-1.4zM475.9,582.1h1.4v1.4h-1.4zM471.8,563.8h1.4v1.4h-1.4zM474.7,568.1h1.4v1.4h-1.4zM472.3,570.8h1.4v1.4h-1.4zM466.1,564.8h1.4v1.4h-1.4zM476.2,580.6h1.4v1.4h-1.4zM469.0,568.1h1.4v1.4h-1.4zM479.1,573.9h1.4v1.4h-1.4zM482.9,563.6h1.4v1.4h-1.4zM467.4,560.2h1.4v1.4h-1.4zM476.4,577.5h1.4v1.4h-1.4zM473.7,581.4h1.4v1.4h-1.4zM467.2,558.7h1.4v1.4h-1.4zM470.6,564.9h1.4v1.4h-1.4zM469.0,575.5h1.4v1.4h-1.4zM473.2,573.0h1.4v1.4h-1.4zM476.9,577.8h1.4v1.4h-1.4zM479.2,575.3h1.4v1.4h-1.4zM476.8,575.9h1.4v1.4h-1.4zM472.1,564.1h1.4v1.4h-1.4zM469.4,588.6h1.4v1.4h-1.4zM482.6,561.6h1.4v1.4h-1.4zM471.9,580.7h1.4v1.4h-1.4zM478.2,576.7h1.4v1.4h-1.4zM467.0,578.7h1.4v1.4h-1.4zM472.0,558.7h1.4v1.4h-1.4zM476.8,567.5h1.4v1.4h-1.4zM482.7,572.9h1.4v1.4h-1.4zM483.8,570.7h1.4v1.4h-1.4zM471.9,582.0h1.4v1.4h-1.4zM468.8,580.6h1.4v1.4h-1.4zM480.7,570.9h1.4v1.4h-1.4zM475.7,575.4h1.4v1.4h-1.4zM476.8,583.7h1.4v1.4h-1.4zM479.3,575.7h1.4v1.4h-1.4zM480.0,574.9h1.4v1.4h-1.4zM479.9,586.6h1.4v1.4h-1.4zM475.4,578.7h1.4v1.4h-1.4zM468.4,568.8h1.4v1.4h-1.4zM479.9,584.3h1.4v1.4h-1.4zM483.8,569.1h1.4v1.4h-1.4zM466.5,570.9h1.4v1.4h-1.4zM467.1,575.3h1.4v1.4h-1.4zM482.9,576.7h1.4v1.4h-1.4zM468.7,573.1h1.4v1.4h-1.4zM468.9,572.6h1.4v1.4h-1.4zM480.0,591.5h1.4v1.4h-1.4zM477.5,560.3h1.4v1.4h-1.4zM480.4,572.6h1.4v1.4h-1.4zM467.9,580.3h1.4v1.4h-1.4zM467.2,553.3h1.4v1.4h-1.4zM467.1,586.1h1.4v1.4h-1.4zM473.4,560.8h1.4v1.4h-1.4zM470.0,558.7h1.4v1.4h-1.4zM470.7,575.6h1.4v1.4h-1.4zM479.7,570.8h1.4v1.4h-1.4zM471.4,565.5h1.4v1.4h-1.4zM468.8,569.1h1.4v1.4h-1.4zM481.6,559.2h1.4v1.4h-1.4zM471.1,571.1h1.4v1.4h-1.4zM474.7,588.5h1.4v1.4h-1.4zM476.8,563.8h1.4v1.4h-1.4zM476.4,559.6h1.4v1.4h-1.4zM472.5,566.7h1.4v1.4h-1.4zM481.5,552.2h1.4v1.4h-1.4zM471.4,550.9h1.4v1.4h-1.4zM468.0,593.8h1.4v1.4h-1.4zM468.7,550.8h1.4v1.4h-1.4zM467.8,569.9h1.4v1.4h-1.4zM472.1,573.4h1.4v1.4h-1.4zM478.9,575.3h1.4v1.4h-1.4zM470.2,569.2h1.4v1.4h-1.4zM478.4,571.3h1.4v1.4h-1.4zM473.7,577.6h1.4v1.4h-1.4zM466.4,572.0h1.4v1.4h-1.4zM468.2,578.9h1.4v1.4h-1.4zM468.4,553.6h1.4v1.4h-1.4zM468.7,565.4h1.4v1.4h-1.4zM475.0,558.2h1.4v1.4h-1.4zM482.5,577.7h1.4v1.4h-1.4zM469.9,563.0h1.4v1.4h-1.4zM470.9,559.8h1.4v1.4h-1.4zM470.8,580.9h1.4v1.4h-1.4zM473.3,560.6h1.4v1.4h-1.4zM472.5,568.0h1.4v1.4h-1.4zM475.8,576.4h1.4v1.4h-1.4zM478.4,583.9h1.4v1.4h-1.4zM473.2,560.7h1.4v1.4h-1.4zM473.5,582.0h1.4v1.4h-1.4zM473.4,577.9h1.4v1.4h-1.4zM484.0,564.9h1.4v1.4h-1.4zM470.6,587.5h1.4v1.4h-1.4zM472.8,584.1h1.4v1.4h-1.4zM481.2,570.1h1.4v1.4h-1.4zM482.4,566.6h1.4v1.4h-1.4zM477.6,574.2h1.4v1.4h-1.4zM471.7,579.3h1.4v1.4h-1.4zM481.4,555.8h1.4v1.4h-1.4zM476.7,571.7h1.4v1.4h-1.4zM479.4,570.0h1.4v1.4h-1.4zM478.8,558.1h1.4v1.4h-1.4zM478.2,583.5h1.4v1.4h-1.4zM477.3,573.5h1.4v1.4h-1.4zM470.8,569.6h1.4v1.4h-1.4zM474.5,558.8h1.4v1.4h-1.4zM470.0,581.3h1.4v1.4h-1.4zM482.7,572.8h1.4v1.4h-1.4zM480.6,582.1h1.4v1.4h-1.4zM469.1,573.3h1.4v1.4h-1.4zM480.9,584.2h1.4v1.4h-1.4zM481.6,567.7h1.4v1.4h-1.4zM480.7,583.6h1.4v1.4h-1.4zM468.8,559.1h1.4v1.4h-1.4zM480.5,564.3h1.4v1.4h-1.4zM474.2,565.7h1.4v1.4h-1.4zM478.5,551.8h1.4v1.4h-1.4zM479.7,587.1h1.4v1.4h-1.4zM478.2,569.0h1.4v1.4h-1.4zM472.7,577.9h1.4v1.4h-1.4zM472.9,571.9h1.4v1.4h-1.4zM467.0,567.4h1.4v1.4h-1.4zM478.9,559.5h1.4v1.4h-1.4zM481.0,574.1h1.4v1.4h-1.4zM477.5,565.4h1.4v1.4h-1.4zM480.3,568.5h1.4v1.4h-1.4zM472.7,561.6h1.4v1.4h-1.4zM478.8,579.3h1.4v1.4h-1.4zM473.3,568.3h1.4v1.4h-1.4zM472.9,568.2h1.4v1.4h-1.4zM482.6,579.0h1.4v1.4h-1.4zM472.7,556.9h1.4v1.4h-1.4zM471.9,573.6h1.4v1.4h-1.4zM475.5,571.1h1.4v1.4h-1.4zM482.2,580.4h1.4v1.4h-1.4zM474.3,558.9h1.4v1.4h-1.4zM481.1,569.3h1.4v1.4h-1.4zM473.9,590.1h1.4v1.4h-1.4zM475.2,568.4h1.4v1.4h-1.4zM473.2,578.1h1.4v1.4h-1.4zM478.2,584.4h1.4v1.4h-1.4zM468.1,569.2h1.4v1.4h-1.4zM467.4,587.0h1.4v1.4h-1.4zM479.6,568.2h1.4v1.4h-1.4zM467.0,569.1h1.4v1.4h-1.4zM467.0,574.1h1.4v1.4h-1.4zM473.5,581.5h1.4v1.4h-1.4zM481.7,553.7h1.4v1.4h-1.4zM472.0,571.6h1.4v1.4h-1.4zM470.9,570.1h1.4v1.4h-1.4zM481.5,574.1h1.4v1.4h-1.4zM475.2,564.7h1.4v1.4h-1.4zM481.6,564.0h1.4v1.4h-1.4zM481.4,568.7h1.4v1.4h-1.4zM475.7,570.4h1.4v1.4h-1.4zM474.4,568.5h1.4v1.4h-1.4zM480.4,578.6h1.4v1.4h-1.4zM482.5,575.8h1.4v1.4h-1.4zM475.6,563.6h1.4v1.4h-1.4zM476.2,568.7h1.4v1.4h-1.4zM471.2,573.9h1.4v1.4h-1.4zM480.4,554.8h1.4v1.4h-1.4zM474.0,591.9h1.4v1.4h-1.4zM467.0,565.2h1.4v1.4h-1.4zM481.5,572.9h1.4v1.4h-1.4zM476.7,573.3h1.4v1.4h-1.4zM480.4,560.7h1.4v1.4h-1.4zM478.1,577.0h1.4v1.4h-1.4zM481.1,572.9h1.4v1.4h-1.4zM482.5,564.9h1.4v1.4h-1.4zM480.1,568.4h1.4v1.4h-1.4zM473.5,569.0h1.4v1.4h-1.4zM478.3,572.1h1.4v1.4h-1.4zM467.0,551.1h1.4v1.4h-1.4zM471.3,553.9h1.4v1.4h-1.4zM476.5,566.6h1.4v1.4h-1.4zM482.4,576.1h1.4v1.4h-1.4zM481.1,573.1h1.4v1.4h-1.4zM473.0,563.0h1.4v1.4h-1.4zM470.0,580.8h1.4v1.4h-1.4zM467.7,562.1h1.4v1.4h-1.4zM478.2,572.4h1.4v1.4h-1.4zM480.9,580.6h1.4v1.4h-1.4zM482.9,585.3h1.4v1.4h-1.4zM479.5,573.5h1.4v1.4h-1.4zM482.7,562.6h1.4v1.4h-1.4zM476.8,589.4h1.4v1.4h-1.4zM467.6,569.3h1.4v1.4h-1.4zM481.2,573.7h1.4v1.4h-1.4zM482.6,551.3h1.4v1.4h-1.4zM472.2,590.9h1.4v1.4h-1.4zM477.8,584.8h1.4v1.4h-1.4zM470.5,576.5h1.4v1.4h-1.4zM469.2,562.7h1.4v1.4h-1.4zM476.1,572.1h1.4v1.4h-1.4zM475.9,568.2h1.4v1.4h-1.4zM466.6,579.7h1.4v1.4h-1.4zM467.8,577.2h1.4v1.4h-1.4zM472.4,562.9h1.4v1.4h-1.4zM477.9,562.0h1.4v1.4h-1.4zM472.0,560.8h1.4v1.4h-1.4zM481.7,551.7h1.4v1.4h-1.4zM481.8,568.6h1.4v1.4h-1.4zM474.9,568.1h1.4v1.4h-1.4zM469.0,563.6h1.4v1.4h-1.4zM475.1,564.2h1.4v1.4h-1.4zM469.7,568.0h1.4v1.4h-1.4zM470.3,562.6h1.4v1.4h-1.4zM466.3,590.7h1.4v1.4h-1.4zM474.8,571.9h1.4v1.4h-1.4zM470.1,584.1h1.4v1.4h-1.4zM468.8,577.1h1.4v1.4h-1.4zM382.9,649.5h1.4v1.4h-1.4zM387.7,653.6h1.4v1.4h-1.4zM466.0,597.8h1.4v1.4h-1.4zM470.0,600.0h1.4v1.4h-1.4zM481.0,599.4h1.4v1.4h-1.4zM486.0,601.6h1.4v1.4h-1.4zM472.0,602.5h1.4v1.4h-1.4zM240.0,694.6h1.4v1.4h-1.4zM246.0,694.6h1.4v1.4h-1.4zM252.0,694.6h1.4v1.4h-1.4zM258.0,694.6h1.4v1.4h-1.4zM248.0,675.6h1.4v1.4h-1.4zM252.0,672.7h1.4v1.4h-1.4zM262.0,675.6h1.4v1.4h-1.4zM341.5,661.9h1.4v1.4h-1.4zM336.4,694.6h1.4v1.4h-1.4zM330.0,675.6h1.4v1.4h-1.4zM340.0,676.2h1.4v1.4h-1.4zM345.0,672.4h1.4v1.4h-1.4zM334.0,679.4h1.4v1.4h-1.4zM342.0,678.1h1.4v1.4h-1.4zM421.3,631.1h1.4v1.4h-1.4zM431.1,631.1h1.4v1.4h-1.4zM418.0,648.6h1.4v1.4h-1.4zM425.0,647.0h1.4v1.4h-1.4zM430.0,644.1h1.4v1.4h-1.4zM423.0,653.3h1.4v1.4h-1.4zM510.0,599.4h1.4v1.4h-1.4zM510.0,600.9h1.4v1.4h-1.4zM506.0,614.3h1.4v1.4h-1.4zM512.0,612.1h1.4v1.4h-1.4zM516.0,613.6h1.4v1.4h-1.4zM508.0,597.8h1.4v1.4h-1.4z" fill="#000" transform="translate(-0.7,-0.7)"/>
<line x1="191.2" y1="539" x2="191.2" y2="703.1" stroke="#111" stroke-width="1.6" />
<line x1="190.4" y1="702.3" x2="535" y2="702.3" stroke="#111" stroke-width="1.6" />
<line x1="187.2" y1="694.6" x2="191.2" y2="694.6" stroke="#111" stroke-width="1.4" />
<text x="181.2" y="700.1" font-size="16" text-anchor="end" font-weight="normal" fill="#111" >0</text>
<line x1="187.2" y1="662.85" x2="191.2" y2="662.85" stroke="#111" stroke-width="1.4" />
<text x="181.2" y="668.35" font-size="16" text-anchor="end" font-weight="normal" fill="#111" >1</text>
<line x1="187.2" y1="631.1" x2="191.2" y2="631.1" stroke="#111" stroke-width="1.4" />
<text x="181.2" y="636.6" font-size="16" text-anchor="end" font-weight="normal" fill="#111" >2</text>
<line x1="187.2" y1="599.35" x2="191.2" y2="599.35" stroke="#111" stroke-width="1.4" />
<text x="181.2" y="604.85" font-size="16" text-anchor="end" font-weight="normal" fill="#111" >3</text>
<line x1="187.2" y1="567.6" x2="191.2" y2="567.6" stroke="#111" stroke-width="1.4" />
<text x="181.2" y="573.1" font-size="16" text-anchor="end" font-weight="normal" fill="#111" >4</text>
<line x1="232.6" y1="702.3" x2="232.6" y2="706" stroke="#111" stroke-width="1.4" />
<text x="233.2" y="723.8" font-size="16" text-anchor="middle" font-weight="normal" fill="#111" >3</text>
<line x1="319.3" y1="702.3" x2="319.3" y2="706" stroke="#111" stroke-width="1.4" />
<text x="319.90000000000003" y="723.8" font-size="16" text-anchor="middle" font-weight="normal" fill="#111" >4</text>
<line x1="406" y1="702.3" x2="406" y2="706" stroke="#111" stroke-width="1.4" />
<text x="406.6" y="723.8" font-size="16" text-anchor="middle" font-weight="normal" fill="#111" >5</text>
<line x1="492.7" y1="702.3" x2="492.7" y2="706" stroke="#111" stroke-width="1.4" />
<text x="493.3" y="723.8" font-size="16" text-anchor="middle" font-weight="normal" fill="#111" >6</text>
<text x="212.4" y="554.6" font-size="14.55" text-anchor="start" font-weight="normal" fill="#56a24f" >True positive reads</text>
<text x="212.4" y="575" font-size="14.55" text-anchor="start" font-weight="normal" fill="#d3343a" >False positive reads</text>
<text x="280.9" y="750.6" font-size="16.3" fill="#111">log<tspan font-size="11" dy="5.4" textLength="10.2" lengthAdjust="spacingAndGlyphs">10</tspan><tspan dy="-5.4">(Number of reads)</tspan></text>
<text transform="translate(128.9,630.7) rotate(-90)" font-size="16.4" text-anchor="middle" fill="#111">log<tspan font-size="11" dy="5.4" textLength="10.2" lengthAdjust="spacingAndGlyphs">10</tspan><tspan dy="-5.4">(number&#160; of reads</tspan></text>
<text transform="translate(150.4,630) rotate(-90)" font-size="16.4" text-anchor="middle" fill="#111">per barcode + 1)</text>
</svg>
</body></html>
